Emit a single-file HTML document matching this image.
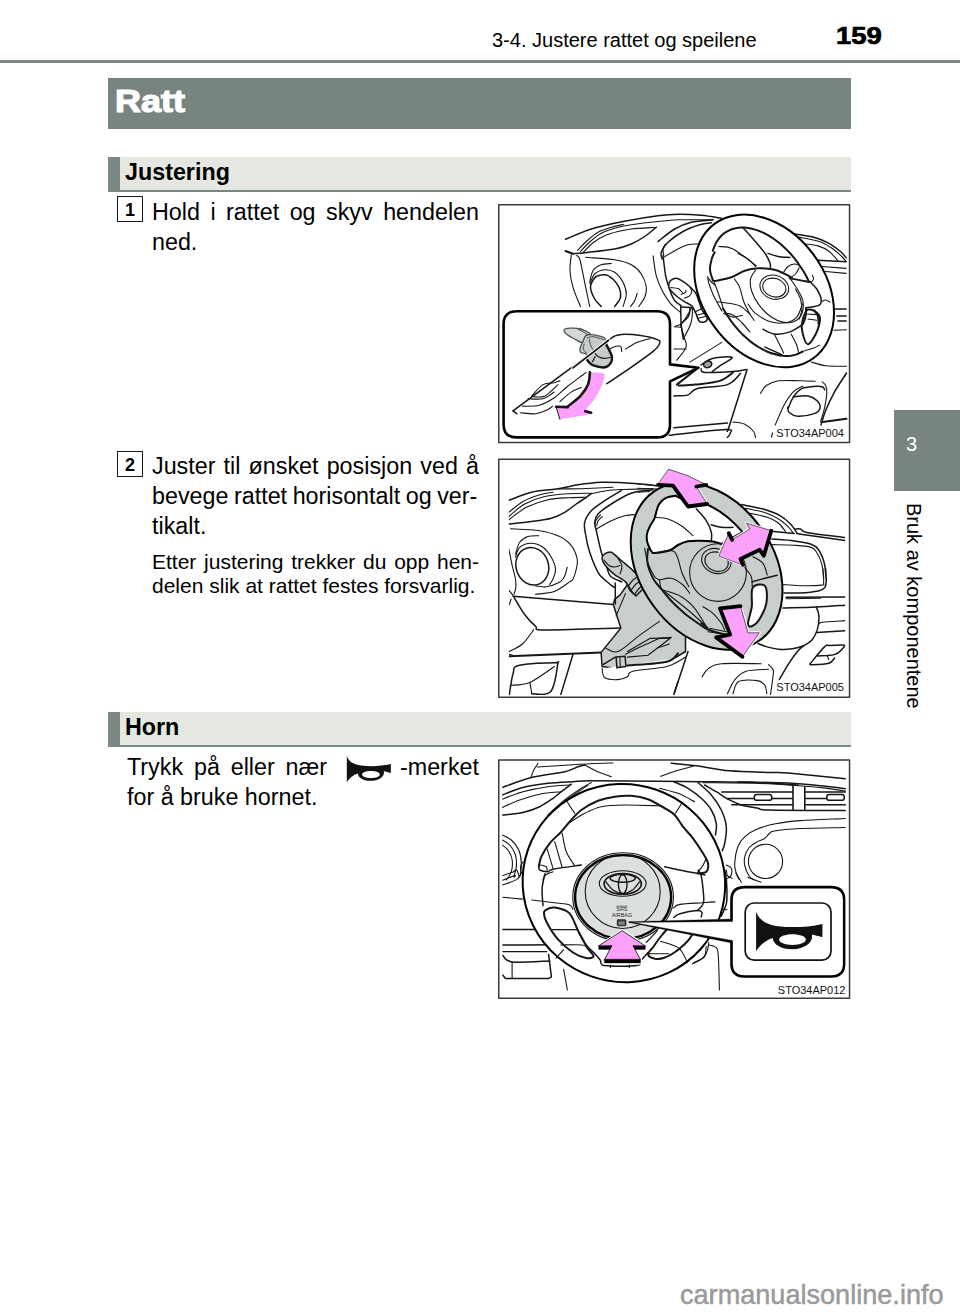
<!DOCTYPE html>
<html lang="no">
<head>
<meta charset="utf-8">
<title>Ratt</title>
<style>
html,body{margin:0;padding:0;background:#fff;}
body{width:960px;height:1312px;position:relative;overflow:hidden;font-family:"Liberation Sans",sans-serif;color:#000;}
.abs{position:absolute;}
#hdr{left:492px;top:28px;font-size:20px;line-height:24px;white-space:nowrap;}
#pgno{left:836px;top:22px;font-size:23.5px;line-height:28px;font-weight:bold;white-space:nowrap;transform-origin:0 0;transform:scaleX(1.17);-webkit-text-stroke:0.7px #000;}
#rule{left:0;top:60px;width:960px;height:3px;background:#7b8783;}
#title{left:108px;top:78px;width:743px;height:51px;background:#78847f;}
#title span{position:absolute;left:7px;top:6px;font-size:31px;line-height:36px;font-weight:bold;color:#fff;transform-origin:0 0;transform:scaleX(1.16);-webkit-text-stroke:1.2px #fff;white-space:nowrap;}
.sec{left:108px;width:743px;height:33px;background:#e4e8e0;border-bottom:2px solid #7b8783;}
.sec i{position:absolute;left:0;top:0;width:12px;height:35px;background:#7b8783;}
.sec span{position:absolute;left:17px;top:1.5px;font-size:23.3px;line-height:26px;font-weight:bold;white-space:nowrap;}
.num{width:24px;height:24px;border:1px solid #1a1a1a;font-size:18px;line-height:26px;font-weight:bold;text-align:center;box-sizing:content-box;}
.ln{font-size:23.3px;line-height:30px;height:30px;white-space:nowrap;}
.sm{font-size:21px;line-height:24px;height:24px;white-space:nowrap;}
.j{text-align:justify;text-align-last:justify;}
.fig{left:498px;width:350px;border:1.5px solid #333;box-sizing:content-box;background:#fff;overflow:hidden;}
.fig svg{position:absolute;left:0;top:0;}
#tab{left:894px;top:410px;width:66px;height:81px;background:#78847f;}
#tab span{position:absolute;left:12px;top:22px;font-size:20px;line-height:24px;color:#fff;}
#side{left:925.5px;top:503px;font-size:20px;line-height:24px;white-space:nowrap;transform-origin:0 0;transform:rotate(90deg);}
#wm{left:680px;top:1277.5px;font-size:27.1px;line-height:34px;color:#9a9a9a;white-space:nowrap;-webkit-text-stroke:0.5px #9a9a9a;}
</style>
</head>
<body>
<div class="abs" id="hdr">3-4. Justere rattet og speilene</div>
<div class="abs" id="pgno">159</div>
<div class="abs" id="rule"></div>
<div class="abs" id="title"><span>Ratt</span></div>

<div class="abs sec" style="top:157px"><i></i><span>Justering</span></div>

<div class="abs num" style="left:117px;top:196px">1</div>
<div class="abs ln j" style="left:152px;top:197px;width:327px">Hold i rattet og skyv hendelen</div>
<div class="abs ln" style="left:152px;top:227px">ned.</div>

<div class="abs num" style="left:117px;top:451px">2</div>
<div class="abs ln j" style="left:152px;top:451px;width:327px">Juster til ønsket posisjon ved å</div>
<div class="abs ln" style="left:152px;top:481px;word-spacing:-0.9px">bevege rattet horisontalt og ver-</div>
<div class="abs ln" style="left:152px;top:511px">tikalt.</div>
<div class="abs sm j" style="left:152px;top:550px;width:327px">Etter justering trekker du opp hen-</div>
<div class="abs sm" style="left:152px;top:573.5px">delen slik at rattet festes forsvarlig.</div>

<div class="abs sec" style="top:712px"><i></i><span>Horn</span></div>
<div class="abs ln j" style="left:127px;top:752px;width:200px">Trykk på eller nær</div>
<div class="abs ln" style="left:400px;top:752px">-merket</div>
<div class="abs ln" style="left:127px;top:782px">for å bruke hornet.</div>
<svg class="abs" id="hornic" style="left:345px;top:754px" width="50" height="30" viewBox="0 0 50 30"><path fill="#111" fill-rule="evenodd" d="M1.80,1.90 C3.46,7.21 8.44,10.66 16.41,11.59 C25.70,12.66 36.33,12.26 45.82,10.07 L45.82,18.90 C42.97,18.23 40.64,17.57 38.85,17.17 C39.98,22.48 33.67,26.87 25.84,26.87 C18.40,26.87 13.22,23.81 12.82,19.43 C8.44,20.82 4.46,23.81 1.80,28.19 Z M25.97,16.91 C20.92,16.91 17.07,18.43 17.07,20.49 C17.07,22.55 20.92,24.08 25.97,24.08 C31.02,24.08 34.87,22.55 34.87,20.49 C34.87,18.43 31.02,16.91 25.97,16.91 Z"/></svg>

<svg class="abs" style="left:497px;top:203px" width="355" height="242" viewBox="497 203 355 242" fill="none" stroke-linecap="round" stroke-linejoin="round">
<defs><clipPath id="c1"><rect x="499" y="205" width="350" height="237"/></clipPath></defs><g clip-path="url(#c1)">
<path d="M565.5,239.3C569.8,237.6 581.8,232.0 591.3,229.0C600.9,226.0 611.9,223.7 623.0,221.5C634.1,219.3 648.6,216.9 658.0,215.7C667.4,214.5 672.4,214.4 679.7,214.3C686.9,214.3 694.4,214.7 701.3,215.3C708.3,216.0 718.0,217.7 721.3,218.2" fill="none" stroke="#161616" stroke-width="1.5"/>
<path d="M577.7,250.3C579.1,248.9 582.9,244.5 586.3,241.5C589.7,238.5 593.8,234.7 598.0,232.3C602.2,230.0 607.0,228.7 611.3,227.3C615.6,226.0 621.8,224.8 623.8,224.3" fill="none" stroke="#161616" stroke-width="1.1"/>
<path d="M580.5,251.5C582.0,249.9 586.2,245.1 589.7,242.0C593.1,238.9 597.2,235.5 601.3,233.2C605.5,230.9 609.7,229.6 614.7,228.2C619.7,226.8 624.1,225.9 631.3,224.8C638.6,223.7 650.2,222.3 658.0,221.5C665.8,220.7 668.8,220.1 678.0,219.8C687.2,219.6 707.2,219.8 713.0,219.8" fill="none" stroke="#161616" stroke-width="1.1"/>
<path d="M583.0,252.7C584.7,251.0 589.4,245.5 593.0,242.7C596.6,239.8 600.5,237.5 604.7,235.7C608.8,233.8 613.6,232.6 618.0,231.5C622.4,230.4 624.9,229.7 631.3,229.0C637.7,228.3 652.2,227.6 656.3,227.3" fill="none" stroke="#161616" stroke-width="1.1"/>
<path d="M565.5,251.0L573.0,253.7" fill="none" stroke="#161616" stroke-width="2.0"/>
<path d="M573.0,253.7C574.9,253.5 577.7,253.4 584.7,252.7C591.6,251.9 606.9,250.4 614.7,249.0C622.4,247.6 626.3,246.1 631.3,244.0C636.3,241.9 640.5,239.3 644.7,236.5C648.8,233.7 654.4,228.9 656.3,227.3" fill="none" stroke="#161616" stroke-width="1.5"/>
<path d="M571.3,254.8C571.1,257.5 569.7,265.2 570.0,270.7C570.3,276.1 571.2,281.4 573.0,287.3C574.8,293.3 579.2,303.3 580.5,306.5" fill="none" stroke="#161616" stroke-width="1.1"/>
<path d="M576.3,255.7C576.9,256.2 578.3,254.6 579.7,259.0C581.1,263.4 583.0,274.4 584.7,282.3C586.3,290.2 588.8,302.5 589.7,306.5" fill="none" stroke="#161616" stroke-width="1.1"/>
<path d="M585.5,257.3C590.4,257.8 607.0,258.6 614.7,259.8C622.3,261.1 626.9,262.5 631.3,264.8C635.8,267.2 638.8,270.2 641.3,274.0C643.8,277.8 645.8,283.4 646.3,287.3C646.9,291.2 645.9,294.1 644.7,297.3C643.4,300.5 639.8,305.0 638.8,306.5" fill="none" stroke="#161616" stroke-width="1.1"/>
<path d="M589.7,282.3C590.2,280.4 591.1,273.6 593.0,270.7C594.9,267.8 598.3,266.0 601.3,264.8C604.4,263.6 609.7,263.7 611.3,263.5" fill="none" stroke="#161616" stroke-width="1.1"/>
<path d="M590.0,284.0C590.8,282.3 592.2,276.4 594.7,274.0C597.1,271.6 601.3,270.1 604.7,269.8C608.0,269.6 611.6,270.2 614.7,272.3C617.7,274.4 621.1,278.7 623.0,282.3C624.9,285.9 626.3,290.0 626.3,294.0C626.3,298.0 623.6,304.4 623.0,306.5" fill="none" stroke="#161616" stroke-width="1.1"/>
<path d="M601.3,306.5C600.2,305.2 596.5,302.2 594.7,299.0C592.9,295.8 590.6,290.7 590.5,287.3C590.4,284.0 592.6,280.9 593.8,279.0C595.1,277.1 595.6,276.2 598.0,275.7C600.4,275.1 604.7,274.0 608.0,275.7C611.3,277.3 615.9,282.1 618.0,285.7C620.1,289.3 621.1,293.9 620.5,297.3C619.9,300.8 615.6,305.0 614.7,306.5" fill="none" stroke="#161616" stroke-width="1.5"/>
<path d="M637.2,293.2C636.8,294.4 635.8,298.4 634.7,300.7C633.6,302.9 631.2,305.5 630.5,306.5" fill="none" stroke="#161616" stroke-width="1.1"/>
<path d="M658.0,241.5C660.8,239.4 669.1,232.2 674.7,229.0C680.2,225.8 684.9,223.9 691.3,222.3C697.7,220.8 709.4,220.2 713.0,219.8" fill="none" stroke="#161616" stroke-width="1.5"/>
<path d="M662.2,259.0C662.0,257.9 660.4,255.1 661.3,252.3C662.3,249.6 664.4,245.8 668.0,242.3C671.6,238.9 677.7,234.4 683.0,231.5C688.3,228.6 694.9,226.3 699.7,224.8C704.4,223.4 709.4,223.0 711.3,222.7" fill="none" stroke="#161616" stroke-width="1.5"/>
<path d="M663.8,257.3C665.6,256.2 670.6,252.8 674.7,250.7C678.7,248.6 684.1,245.9 688.0,244.8C691.9,243.7 696.3,244.1 698.0,244.0" fill="none" stroke="#161616" stroke-width="1.1"/>
<path d="M665.5,244.0C665.1,244.8 663.3,247.1 663.0,249.0C662.7,250.9 663.7,254.6 663.8,255.7" fill="none" stroke="#161616" stroke-width="1.1"/>
<path d="M794.9,234.0C797.9,234.5 807.5,235.7 813.0,237.1C818.5,238.6 823.4,240.4 828.0,242.8C832.6,245.1 837.5,249.0 840.5,251.5C843.5,254.0 845.2,256.7 846.1,257.8" fill="none" stroke="#161616" stroke-width="1.5"/>
<path d="M798.0,237.1C801.5,237.9 813.4,239.5 819.2,241.5C825.1,243.5 829.2,246.5 833.0,249.0C836.8,251.5 839.6,254.4 841.8,256.5C843.9,258.6 845.4,260.7 846.1,261.5" fill="none" stroke="#161616" stroke-width="1.1"/>
<path d="M804.2,244.0C806.5,244.3 813.8,244.6 818.0,245.9C822.2,247.1 825.9,249.0 829.2,251.5C832.6,254.0 836.5,259.3 838.0,260.9" fill="none" stroke="#161616" stroke-width="1.1"/>
<path d="M818.0,260.2L846.1,261.8" fill="none" stroke="#161616" stroke-width="1.5"/>
<path d="M821.8,266.5L846.1,268.4" fill="none" stroke="#161616" stroke-width="1.1"/>
<path d="M825.5,271.5L846.1,273.4" fill="none" stroke="#161616" stroke-width="1.1"/>
<path d="M835.5,309.0L846.1,309.0" fill="none" stroke="#161616" stroke-width="1.5"/>
<path d="M836.8,315.9L846.1,315.9" fill="none" stroke="#161616" stroke-width="1.5"/>
<path d="M838.0,320.9L846.1,320.9" fill="none" stroke="#161616" stroke-width="1.5"/>
<path d="M653.1,255.8C653.6,259.1 654.7,269.7 656.2,275.6C657.8,281.5 660.1,286.6 662.5,291.2C664.9,295.9 667.9,300.3 670.8,303.8C673.8,307.2 678.6,310.7 680.2,312.1" fill="none" stroke="#161616" stroke-width="1.1"/>
<path d="M663.0,255.8C663.5,259.1 664.7,270.4 665.6,275.6C666.6,280.8 667.4,283.1 668.8,287.1C670.1,291.1 671.9,296.5 674.0,299.6C676.0,302.7 680.0,304.8 681.2,305.8" fill="none" stroke="#161616" stroke-width="1.5"/>
<path d="M668.8,284.0C668.9,282.5 669.6,281.3 670.8,280.3C672.0,279.4 674.3,278.2 676.0,278.2C677.8,278.2 679.2,279.1 681.2,280.3C683.3,281.5 686.1,283.4 688.5,285.5C691.0,287.7 694.1,290.6 695.8,293.3C697.6,296.0 697.9,298.9 699.0,301.7C700.0,304.4 700.7,307.2 702.1,310.0C703.5,312.8 706.9,316.3 707.3,318.3C707.6,320.3 705.6,321.5 704.2,322.0C702.8,322.4 700.3,322.4 699.0,320.9C697.6,319.5 697.0,315.6 695.8,313.1C694.6,310.6 693.6,307.7 691.7,305.8C689.8,303.9 686.8,303.2 684.4,301.7C681.9,300.1 679.5,298.5 677.1,296.5C674.7,294.4 671.2,291.2 669.8,289.2C668.4,287.1 668.6,285.4 668.8,284.0Z" fill="#fff" stroke="#161616" stroke-width="1.5"/>
<path d="M681.2,294.4C681.9,294.0 684.6,293.0 685.4,292.3C686.2,291.6 685.9,290.6 685.9,290.2" fill="none" stroke="#161616" stroke-width="1.1"/>
<path d="M684.4,298.0C685.2,297.7 688.4,297.1 689.6,295.9C690.8,294.8 691.6,292.6 691.7,291.2C691.8,289.9 690.4,288.2 690.1,287.6" fill="none" stroke="#161616" stroke-width="1.1"/>
<path d="M670.8,287.6C672.0,287.8 676.2,287.9 678.1,288.6C680.0,289.4 681.6,291.7 682.3,292.3" fill="none" stroke="#161616" stroke-width="1.1"/>
<path d="M694.8,312.1L701.0,309.0" fill="none" stroke="#161616" stroke-width="1.1"/>
<path d="M696.4,315.2C697.5,314.9 701.6,314.1 703.1,313.6C704.6,313.2 704.9,312.8 705.2,312.6" fill="none" stroke="#161616" stroke-width="1.1"/>
<path d="M697.9,318.3L706.2,316.2" fill="none" stroke="#161616" stroke-width="1.1"/>
<path d="M680.7,306.9C680.8,309.8 680.8,319.2 681.2,324.6C681.7,330.0 683.0,336.7 683.3,339.2" fill="none" stroke="#161616" stroke-width="1.5"/>
<path d="M680.7,307.1L691.7,307.5" fill="none" stroke="#161616" stroke-width="1.5"/>
<path d="M690.1,307.9C689.8,309.3 690.0,313.6 688.5,316.2C687.1,318.9 682.5,322.3 681.2,323.5" fill="none" stroke="#161616" stroke-width="1.5"/>
<path d="M692.7,307.9C692.4,310.3 692.5,317.6 691.1,322.5C689.8,327.4 685.5,334.7 684.4,337.1" fill="none" stroke="#161616" stroke-width="1.1"/>
<path d="M674.5,326.7L680.7,327.2" fill="none" stroke="#161616" stroke-width="1.1"/>
<ellipse cx="764.1" cy="290.9" rx="83.4" ry="61.3" transform="rotate(-126.5 764.1 290.9)" fill="#fff" stroke="#000" stroke-width="2.0"/>
<path d="M712.8,250.8L714.1,247.2L715.6,243.8L717.4,240.6L719.5,237.8L721.8,235.3L724.4,233.1L727.2,231.3L730.3,229.8L733.5,228.7L736.9,228.0L740.5,227.6L744.3,227.6L748.1,228.0L752.0,228.7L756.0,229.9L760.1,231.3L764.2,233.2L768.3,235.3L772.3,237.8L776.3,240.7L780.3,243.8L784.1,247.2L787.9,250.9L791.5,254.8L794.9,258.9L798.1,263.2L801.2,267.7L804.1,272.3L806.7,277.0L809.0,281.8" fill="none" stroke="#161616" stroke-width="2.0"/>
<path d="M714.7,252.3C714.2,253.4 712.4,256.1 711.7,259.0C710.9,261.9 709.8,266.2 710.0,269.8C710.2,273.4 712.5,278.9 713.0,280.7" fill="none" stroke="#161616" stroke-width="2.0"/>
<path d="M723.2,308.7L725.2,312.1L727.3,315.5L729.5,318.8L731.8,322.0L734.2,325.2L736.7,328.2L739.3,331.1L742.0,333.9L744.8,336.5L747.6,339.0L750.4,341.4L753.3,343.6L756.3,345.6L759.3,347.5L762.2,349.2L765.2,350.7L768.2,352.0L771.2,353.2L774.1,354.1L777.1,354.9L779.9,355.4L782.8,355.8L785.6,356.0L788.3,355.9L790.9,355.7L793.4,355.2L795.9,354.6L798.3,353.7L800.5,352.7L802.7,351.5" fill="none" stroke="#161616" stroke-width="2.0"/>
<path d="M714.7,281.0C717.4,280.4 726.3,279.1 731.3,277.3C736.3,275.6 740.2,272.2 744.7,270.7C749.1,269.1 753.0,268.3 758.0,268.2C763.0,268.0 769.1,268.3 774.7,269.8C780.2,271.4 788.7,275.9 791.3,277.3C794.0,278.8 787.3,277.6 790.5,278.4C793.7,279.2 807.2,281.5 810.5,282.1" fill="none" stroke="#161616" stroke-width="2.0"/>
<path d="M810.5,282.1C811.5,283.3 815.0,286.2 816.8,289.0C818.5,291.8 820.7,296.3 821.1,299.0C821.5,301.7 821.6,303.8 819.2,305.2C816.9,306.7 808.8,307.3 806.8,307.8" fill="none" stroke="#161616" stroke-width="1.5"/>
<path d="M806.1,307.8C806.0,309.2 806.0,313.8 805.5,316.5C805.0,319.2 803.4,322.8 803.0,324.0" fill="none" stroke="#161616" stroke-width="2.0"/>
<path d="M814.2,310.2C814.9,311.3 817.3,314.2 818.0,316.5C818.7,318.8 818.5,322.8 818.6,324.0" fill="none" stroke="#161616" stroke-width="2.0"/>
<path d="M806.8,314.0L816.8,314.6" fill="none" stroke="#161616" stroke-width="1.1"/>
<path d="M808.0,319.0L816.8,320.2" fill="none" stroke="#161616" stroke-width="1.1"/>
<path d="M821.8,301.5C822.4,301.2 824.1,299.9 825.5,300.0C826.9,300.1 829.1,301.8 829.9,302.1" fill="none" stroke="#161616" stroke-width="1.1"/>
<path d="M812.4,275.2C812.6,275.9 813.7,278.0 813.6,279.0C813.5,280.0 812.1,281.1 811.8,281.5" fill="none" stroke="#161616" stroke-width="1.1"/>
<path d="M755.5,270.2C754.7,271.7 751.1,275.5 750.5,279.0C749.9,282.5 750.3,287.1 751.8,291.5C753.2,295.9 756.1,301.1 759.2,305.2C762.4,309.4 766.5,313.7 770.5,316.5C774.5,319.3 779.0,321.3 783.0,322.1C787.0,323.0 791.1,322.9 794.2,321.5C797.4,320.1 800.3,317.3 801.8,314.0C803.2,310.7 803.6,305.5 803.0,301.5C802.4,297.5 800.1,294.0 798.0,290.2C795.9,286.5 791.8,280.9 790.5,279.0" fill="none" stroke="#161616" stroke-width="1.1"/>
<path d="M795.5,289.0C796.3,290.7 799.5,295.5 800.5,299.0C801.5,302.5 802.0,306.9 801.8,310.2C801.5,313.6 799.7,317.5 799.2,319.0" fill="none" stroke="#161616" stroke-width="1.1"/>
<ellipse cx="774.3" cy="287.2" rx="14.6" ry="11.8" transform="rotate(18 774.3 287.2)" fill="none" stroke="#161616" stroke-width="1.1"/>
<ellipse cx="774.3" cy="287.6" rx="11.8" ry="9.2" transform="rotate(18 774.3 287.6)" fill="none" stroke="#161616" stroke-width="1.1"/>
<path d="M743.0,227.8C744.9,229.8 750.5,235.9 754.2,240.2C758.0,244.6 762.9,250.2 765.5,254.0C768.1,257.8 769.0,260.5 769.9,262.8C770.7,265.0 770.4,266.9 770.5,267.8" fill="none" stroke="#161616" stroke-width="1.5"/>
<path d="M768.0,253.4C769.7,253.9 774.4,255.8 778.0,256.5C781.6,257.2 787.9,257.3 789.9,257.5" fill="none" stroke="#161616" stroke-width="1.5"/>
<path d="M738.0,253.4C739.7,254.3 745.1,256.8 748.0,259.0C750.9,261.2 754.2,265.2 755.5,266.5" fill="none" stroke="#161616" stroke-width="1.1"/>
<path d="M718.8,246.5C721.2,246.9 726.8,245.8 733.0,249.0C739.2,252.2 752.4,262.9 756.3,265.7" fill="none" stroke="#161616" stroke-width="1.1"/>
<path d="M783.6,272.1C784.4,271.2 786.2,267.9 788.0,266.5C789.8,265.1 792.4,264.2 794.2,264.0C796.1,263.8 798.4,265.0 799.2,265.2" fill="none" stroke="#161616" stroke-width="1.1"/>
<path d="M799.2,267.8C798.6,268.8 797.0,272.3 795.5,274.0C794.0,275.7 791.3,277.1 790.5,277.8" fill="none" stroke="#161616" stroke-width="1.1"/>
<path d="M707.3,276.7C707.8,277.4 709.2,279.4 710.4,280.8C711.6,282.2 713.9,284.3 714.6,285.0" fill="none" stroke="#161616" stroke-width="1.1"/>
<path d="M707.8,278.8C708.1,279.8 708.4,282.2 709.4,285.0C710.3,287.8 711.5,291.1 713.5,295.4C715.6,299.8 720.5,308.4 721.9,311.0" fill="none" stroke="#161616" stroke-width="1.1"/>
<path d="M713.5,280.3C714.1,282.0 715.8,286.3 717.2,290.2C718.6,294.1 720.8,300.5 721.9,303.8C722.9,307.0 723.2,309.0 723.4,310.0" fill="none" stroke="#161616" stroke-width="1.1"/>
<path d="M734.4,278.8C735.2,280.1 738.0,283.3 739.6,287.1C741.1,290.9 742.0,297.2 743.8,301.7C745.5,306.2 748.3,311.0 750.0,314.2C751.7,317.3 753.5,319.4 754.2,320.4" fill="none" stroke="#161616" stroke-width="1.1"/>
<path d="M717.7,301.7C718.9,301.8 721.4,302.0 725.0,302.7C728.6,303.4 735.4,303.9 739.6,305.8C743.8,307.7 748.3,312.8 750.0,314.2" fill="none" stroke="#161616" stroke-width="1.1"/>
<path d="M725.0,313.1C726.4,313.5 730.6,313.6 733.3,315.2C736.1,316.8 738.9,319.7 741.7,322.5C744.4,325.3 748.6,330.3 750.0,331.9" fill="none" stroke="#161616" stroke-width="1.1"/>
<path d="M802.4,332.1C803.3,336.0 805.5,344.6 808.0,344.3C810.5,344.0 815.5,335.1 817.4,330.3C819.3,325.4 820.8,318.7 819.3,315.3C817.7,311.8 810.8,308.7 808.0,309.6C805.2,310.6 803.3,317.1 802.4,320.9C801.4,324.6 801.4,328.2 802.4,332.1Z" fill="none" stroke="#161616" stroke-width="2.0"/>
<path d="M748.0,304.0C749.3,305.6 751.8,310.4 755.5,313.4C759.3,316.3 765.5,320.3 770.5,321.8C775.5,323.4 781.1,323.5 785.5,322.8C789.9,322.0 793.9,320.3 796.8,317.1C799.6,314.0 801.4,306.2 802.4,304.0" fill="none" stroke="#161616" stroke-width="1.1"/>
<path d="M723.6,313.4C725.2,314.0 729.9,316.8 733.0,317.1C736.1,317.4 740.8,315.6 742.4,315.3" fill="none" stroke="#161616" stroke-width="1.1"/>
<path d="M763.0,329.3C764.9,330.1 769.9,333.5 774.3,334.0C778.6,334.5 784.6,333.7 789.3,332.1C793.9,330.6 800.2,325.9 802.4,324.6" fill="none" stroke="#161616" stroke-width="1.5"/>
<path d="M774.3,334.0C775.2,335.9 778.3,342.1 779.9,345.3C781.4,348.4 783.0,351.8 783.6,353.1" fill="none" stroke="#161616" stroke-width="1.1"/>
<path d="M791.1,334.0C792.1,335.9 795.5,342.1 796.8,345.3C798.0,348.4 798.3,351.8 798.6,353.1" fill="none" stroke="#161616" stroke-width="1.1"/>
<path d="M764.9,347.1L781.8,354.6" fill="none" stroke="#161616" stroke-width="1.5"/>
<path d="M766.8,351.8L783.6,355.6" fill="none" stroke="#161616" stroke-width="1.1"/>
<path d="M804.3,350.9C805.8,350.4 811.1,349.0 813.6,348.1C816.1,347.1 818.3,345.7 819.3,345.3" fill="none" stroke="#161616" stroke-width="1.1"/>
<path d="M674.9,326.5C676.1,325.9 679.6,325.9 682.4,322.8C685.2,319.6 690.2,310.3 691.8,307.8" fill="none" stroke="#161616" stroke-width="1.1"/>
<path d="M680.5,324.6C681.1,326.8 683.3,334.0 684.3,337.8C685.2,341.5 687.4,343.4 686.1,347.1C684.9,350.9 678.3,358.1 676.8,360.3" fill="none" stroke="#161616" stroke-width="1.1"/>
<path d="M673.9,349.0L686.1,349.0" fill="none" stroke="#161616" stroke-width="1.1"/>
<path d="M689.9,362.1L721.8,342.4" fill="none" stroke="#161616" stroke-width="1.1"/>
<path d="M701.1,364.9C703.0,363.8 707.2,359.6 712.4,358.4C717.5,357.1 730.8,356.2 732.1,357.4C733.3,358.7 723.2,363.5 719.9,365.9C716.6,368.2 713.6,370.6 712.4,371.5" fill="none" stroke="#161616" stroke-width="1.5"/>
<ellipse cx="707.7" cy="364.4" rx="4.2" ry="3.2" transform="rotate(-20 707.7 364.4)" fill="#9aa09e" stroke="#161616" stroke-width="1.5"/>
<path d="M698.3,367.8L676.8,384.6" fill="none" stroke="#161616" stroke-width="2.0"/>
<path d="M701.1,368.7C701.8,369.3 699.6,372.0 704.9,372.4C710.2,372.9 726.1,372.0 733.0,371.5C739.9,371.0 743.9,369.9 746.1,369.6" fill="none" stroke="#161616" stroke-width="1.5"/>
<path d="M678.6,385.6C681.4,385.4 688.6,385.4 695.5,384.6C702.4,383.8 713.6,382.9 719.9,380.9C726.1,378.8 730.8,373.8 733.0,372.4" fill="none" stroke="#161616" stroke-width="2.0"/>
<path d="M673.9,395.9C676.3,395.7 684.1,396.2 688.0,394.9C691.9,393.7 690.8,390.1 697.4,388.4C703.9,386.7 720.2,387.1 727.4,384.6C734.6,382.1 738.3,375.3 740.5,373.4" fill="none" stroke="#161616" stroke-width="1.5"/>
<path d="M747.1,369.6C744.1,379.0 732.5,415.9 729.3,425.9C726.0,435.9 727.7,429.0 727.4,429.6" fill="none" stroke="#161616" stroke-width="1.5"/>
<path d="M673.9,427.8L727.4,423.1" fill="none" stroke="#161616" stroke-width="1.5"/>
<path d="M669.3,435.3C678.6,434.3 715.3,429.9 725.5,429.6C735.7,429.3 729.9,432.1 730.2,433.4C730.5,434.7 727.8,436.8 727.4,437.5" fill="none" stroke="#161616" stroke-width="1.5"/>
<path d="M733.0,422.1C734.9,422.4 740.8,422.4 744.3,424.0C747.7,425.6 751.8,429.3 753.6,431.5C755.5,433.8 755.2,436.5 755.5,437.5" fill="none" stroke="#161616" stroke-width="1.1"/>
<path d="M811.1,362.0C813.6,362.6 819.8,365.0 825.7,365.7C831.6,366.4 843.1,366.1 846.5,366.2" fill="none" stroke="#161616" stroke-width="1.1"/>
<path d="M834.0,330.2L846.5,329.7" fill="none" stroke="#161616" stroke-width="1.1"/>
<path d="M846.5,373.0C844.5,376.3 837.5,386.5 834.0,392.8C830.6,399.0 827.9,405.1 825.7,410.5C823.5,415.8 821.8,422.6 821.0,425.0" fill="none" stroke="#161616" stroke-width="1.5"/>
<path d="M822.6,421.9L846.5,418.8" fill="none" stroke="#161616" stroke-width="2.0"/>
<path d="M822.1,381.8C822.7,382.4 824.9,383.6 825.7,385.5C826.5,387.3 826.9,389.1 826.8,392.8C826.6,396.4 825.7,402.5 824.7,407.3C823.6,412.2 821.2,419.5 820.5,421.9" fill="none" stroke="#161616" stroke-width="1.1"/>
<path d="M760.6,393.3C761.6,392.0 763.3,387.5 766.3,385.5C769.4,383.4 773.3,381.6 778.8,380.8C784.4,380.0 793.6,380.7 799.7,380.8C805.7,380.9 812.7,381.2 815.3,381.3" fill="none" stroke="#161616" stroke-width="1.1"/>
<path d="M775.2,425.0C776.7,421.7 781.0,410.8 784.0,405.2C787.1,399.7 790.3,394.9 793.4,391.7C796.5,388.5 801.2,387.1 802.8,386.2" fill="none" stroke="#161616" stroke-width="1.1"/>
<path d="M788.2,408.4C789.1,406.5 791.2,400.2 793.4,396.9C795.7,393.6 797.9,390.4 801.8,388.6C805.6,386.8 812.9,386.4 816.3,386.2C819.8,385.9 821.2,386.4 822.6,387.0C824.0,387.6 824.3,389.2 824.7,389.6" fill="none" stroke="#161616" stroke-width="1.5"/>
<path d="M793.4,396.9C795.8,396.7 804.0,395.2 808.0,395.9C812.0,396.6 815.4,399.0 817.4,401.1C819.4,403.2 820.5,406.3 820.0,408.4C819.5,410.5 818.0,412.3 814.2,413.6C810.5,414.9 801.8,416.4 797.6,416.2C793.4,416.0 790.9,414.0 789.2,412.5C787.6,411.1 787.9,408.2 787.7,407.3" fill="none" stroke="#161616" stroke-width="1.5"/>
<path d="M771.5,437.0L772.6,432.9" fill="none" stroke="#161616" stroke-width="1.1"/>
<path d="M516.6,311.2 H657.0 Q670.0,311.2 670.0,324.2 V364.4 L698.3,367.8 L670.0,381.3 V424.4 Q670.0,437.4 657.0,437.4 H516.6 Q503.6,437.4 503.6,424.4 V324.2 Q503.6,311.2 516.6,311.2 Z" fill="#fff" stroke="#000" stroke-width="2.6"/>
<path d="M513.0,410.9L608.6,340.2" fill="none" stroke="#161616" stroke-width="1.5"/>
<path d="M608.6,340.2C609.6,339.5 612.1,337.2 614.3,336.3C616.4,335.3 617.4,334.5 621.8,334.4C626.1,334.3 634.6,334.6 640.5,335.5C646.4,336.4 654.2,338.3 657.4,339.6C660.6,340.9 660.3,341.5 659.6,343.4C659.0,345.3 658.7,346.7 653.6,350.9C648.6,355.1 637.1,363.2 629.3,368.7C621.4,374.2 610.5,381.2 606.8,383.7" fill="none" stroke="#161616" stroke-width="1.5"/>
<path d="M625.5,349.0C627.4,347.9 632.7,344.2 636.8,342.4C640.8,340.7 647.7,339.3 649.9,338.7" fill="none" stroke="#161616" stroke-width="1.1"/>
<path d="M513.0,410.9L516.8,413.7" fill="none" stroke="#161616" stroke-width="1.5"/>
<path d="M520.5,412.8C523.0,412.9 530.8,414.3 535.5,413.7C540.2,413.1 545.8,410.3 548.6,409.0C551.4,407.8 551.8,406.7 552.4,406.2" fill="none" stroke="#161616" stroke-width="1.1"/>
<path d="M522.4,406.2C525.2,406.0 533.9,406.7 539.3,405.3C544.6,403.8 549.6,400.9 554.3,397.8C558.9,394.6 562.7,390.3 567.4,386.5C572.1,382.8 579.3,377.6 582.4,375.3C585.5,372.9 585.5,372.9 586.1,372.4" fill="none" stroke="#161616" stroke-width="1.1"/>
<path d="M531.8,395.9C533.6,394.0 539.3,386.8 543.0,384.6C546.8,382.4 551.4,383.4 554.3,382.8C557.1,382.1 558.9,381.2 559.9,380.9" fill="none" stroke="#161616" stroke-width="1.1"/>
<path d="M533.6,396.8C535.5,396.7 540.8,397.9 544.9,395.9C548.9,393.8 555.8,386.5 558.0,384.6" fill="none" stroke="#161616" stroke-width="1.1"/>
<path d="M528.0,398.7C530.5,398.7 538.6,399.8 543.0,398.7C547.4,397.6 552.4,393.2 554.3,392.1" fill="none" stroke="#161616" stroke-width="1.1"/>
<path d="M559.9,401.5C561.8,399.9 567.5,394.5 571.1,392.1C574.7,389.8 579.7,388.2 581.4,387.4" fill="none" stroke="#161616" stroke-width="1.1"/>
<path d="M564.2,330.8C563.9,330.0 563.9,329.4 565.0,329.0C566.1,328.6 568.9,328.3 570.8,328.2C572.8,328.1 574.6,328.0 576.7,328.3C578.8,328.6 581.1,329.1 583.3,330.0C585.6,330.9 589.6,332.8 590.0,333.8C590.4,334.7 587.1,334.4 585.8,335.8C584.6,337.3 584.3,341.9 582.5,342.5C580.7,343.1 577.6,340.6 575.0,339.2C572.4,337.8 568.5,335.6 566.7,334.2C564.9,332.8 564.4,331.7 564.2,330.8Z" fill="#d3d8d6" stroke="#4a504e" stroke-width="1.3"/>
<path d="M576.7,328.3L587.5,334.3" fill="none" stroke="#4a504e" stroke-width="1.0"/>
<path d="M580.0,328.2L590.0,333.3" fill="none" stroke="#4a504e" stroke-width="1.0"/>
<path d="M585.8,335.8C587.4,334.5 589.0,334.4 591.7,334.6C594.3,334.7 599.4,336.0 601.7,336.7C603.9,337.4 603.9,336.8 605.0,338.8C606.1,340.7 607.2,345.5 608.3,348.3C609.4,351.2 611.1,353.8 611.7,355.8C612.2,357.9 612.2,359.2 611.7,360.8C611.1,362.5 609.7,364.7 608.3,365.8C606.9,366.9 605.8,367.6 603.3,367.5C600.8,367.4 595.7,366.2 593.3,365.4C591.0,364.6 590.3,363.5 589.2,362.5C588.1,361.5 587.1,360.3 586.7,359.2C586.2,358.1 586.9,356.8 586.7,355.8C586.4,354.9 586.0,353.9 585.0,353.3C584.0,352.8 581.7,353.3 580.8,352.5C580.0,351.7 579.7,350.0 580.0,348.3C580.3,346.7 581.5,344.6 582.5,342.5C583.5,340.4 584.3,337.2 585.8,335.8Z" fill="#c6ccca" stroke="#4a504e" stroke-width="1.3"/>
<path d="M587.5,337.9C588.5,337.7 590.7,336.4 593.3,336.7C596.0,336.9 601.7,339.1 603.3,339.6" fill="none" stroke="#4a504e" stroke-width="1.0"/>
<path d="M589.2,339.2C589.4,340.3 590.1,344.0 590.8,345.8C591.5,347.6 592.9,349.3 593.3,350.0" fill="none" stroke="#4a504e" stroke-width="1.0"/>
<path d="M584.2,344.2C584.0,345.0 582.9,347.6 583.3,349.2C583.8,350.7 586.1,352.6 586.7,353.3" fill="none" stroke="#4a504e" stroke-width="1.0"/>
<path d="M595.0,353.3C595.6,353.9 596.8,355.8 598.3,356.7C599.9,357.5 602.2,358.2 604.2,358.3C606.1,358.5 609.0,357.6 610.0,357.5" fill="none" stroke="#161616" stroke-width="1.2"/>
<path d="M595.0,356.7L592.5,361.7" fill="none" stroke="#161616" stroke-width="1.2"/>
<path d="M586.7,359.2C587.1,359.7 588.1,361.5 589.2,362.5C590.3,363.5 591.0,364.6 593.3,365.4C595.7,366.2 600.8,367.4 603.3,367.5C605.8,367.6 606.9,366.9 608.3,365.8C609.7,364.7 611.1,362.5 611.7,360.8C612.2,359.2 612.2,357.9 611.7,355.8C611.1,353.8 609.3,350.3 608.3,348.3C607.4,346.4 606.2,344.9 605.8,344.2" fill="none" stroke="#161616" stroke-width="2.4"/>
<path d="M573.0,367.9L608.6,340.2" fill="none" stroke="#fff" stroke-width="3.6"/>
<path d="M573.0,367.9L608.6,340.2" fill="none" stroke="#161616" stroke-width="1.8"/>
<path d="M610.0,348.8C611.0,348.3 614.0,346.6 615.8,346.2C617.6,345.9 619.9,345.8 620.8,346.7C621.8,347.6 621.5,350.8 621.7,351.7" fill="none" stroke="#161616" stroke-width="1.1"/>
<path d="M589.9,372.4C592.2,372.7 601.9,371.7 603.9,373.8C606.0,375.8 603.5,380.6 602.1,384.6C600.7,388.6 598.2,393.7 595.5,397.8C592.8,401.8 587.7,407.1 586.1,409.0L591.2,411.8 L590.8,414.3 L559.9,419.3 L556.1,406.8 L567.4,407.1C569.6,405.3 577.1,399.6 580.5,395.9C583.9,392.1 586.4,388.5 588.0,384.6C589.6,380.7 589.6,374.5 589.9,372.4Z" fill="#fca1fb" stroke="none" stroke-width="0"/>
<path d="M589.9,372.4C589.6,374.5 589.6,380.7 588.0,384.6C586.4,388.5 583.9,392.2 580.5,395.9C577.1,399.6 569.6,404.9 567.4,406.8" fill="none" stroke="#161616" stroke-width="2.6"/>
<path d="M567.8,407.1L556.1,406.8" fill="none" stroke="#161616" stroke-width="2.6"/>
<path d="M585.2,411.3L591.2,412.8" fill="none" stroke="#161616" stroke-width="2.6"/>
<path d="M556.1,406.8L559.9,419.3" fill="none" stroke="#161616" stroke-width="1.0"/>
</g>
<rect x="498.75" y="204.75" width="350.8" height="237.8" stroke="#3a3a3a" stroke-width="1.5"/>
<text x="776.3" y="437.2" font-family="Liberation Sans, sans-serif" font-size="11px" fill="#111" stroke="none">STO34AP004</text>
</svg>
<svg class="abs" style="left:497px;top:457px" width="355" height="243" viewBox="497 457 355 243" fill="none" stroke-linecap="round" stroke-linejoin="round">
<defs><clipPath id="c2"><rect x="508.8" y="460" width="336.5" height="235"/></clipPath></defs><g clip-path="url(#c2)">
<path d="M508.8,500.3C512.6,499.0 523.4,494.2 531.3,492.3C539.2,490.4 548.6,490.2 556.3,489.0C564.1,487.8 570.5,485.9 578.0,484.8C585.5,483.7 593.8,482.7 601.3,482.3C608.8,482.0 615.8,482.5 623.0,482.8C630.2,483.2 639.1,483.9 644.7,484.3C650.2,484.8 654.4,485.4 656.3,485.7" fill="none" stroke="#161616" stroke-width="1.5"/>
<path d="M508.8,512.3C511.2,510.5 517.9,504.4 523.0,501.5C528.1,498.6 534.7,496.4 539.7,494.8C544.7,493.3 550.8,492.8 553.0,492.3" fill="none" stroke="#161616" stroke-width="1.1"/>
<path d="M508.8,516.5C511.5,514.4 518.7,507.3 524.7,504.0C530.6,500.7 537.4,498.2 544.7,496.5C551.9,494.8 560.5,494.2 568.0,493.7C575.5,493.1 586.1,493.2 589.7,493.2" fill="none" stroke="#161616" stroke-width="1.1"/>
<path d="M558.0,489.0C561.9,488.9 572.2,488.9 581.3,488.7C590.5,488.4 607.7,487.6 613.0,487.3" fill="none" stroke="#161616" stroke-width="1.1"/>
<path d="M589.7,494.0C592.4,493.4 600.8,491.4 606.3,490.7C611.9,489.9 615.2,489.8 623.0,489.5C630.8,489.2 648.0,488.8 653.0,488.7" fill="none" stroke="#161616" stroke-width="1.1"/>
<path d="M508.8,519.8C511.8,517.8 519.8,510.7 526.3,507.3C532.9,504.0 540.8,501.4 548.0,499.8C555.2,498.2 563.3,498.1 569.7,497.7C576.1,497.2 583.6,497.4 586.3,497.3" fill="none" stroke="#161616" stroke-width="1.1"/>
<path d="M508.8,524.0C512.6,523.6 524.2,522.5 531.3,521.5C538.4,520.5 545.8,519.7 551.3,518.2C556.9,516.6 560.5,514.7 564.7,512.3C568.8,510.0 572.7,506.5 576.3,504.0C579.9,501.5 583.8,499.1 586.3,497.3C588.8,495.5 590.5,493.9 591.3,493.2" fill="none" stroke="#161616" stroke-width="1.5"/>
<path d="M510.5,528.7C515.4,529.0 531.5,529.4 539.7,530.7C547.9,532.0 554.4,534.0 559.7,536.5C564.9,539.0 568.4,541.9 571.3,545.7C574.2,549.4 576.3,555.1 577.2,559.0C578.0,562.9 577.0,565.7 576.3,569.0C575.6,572.3 574.2,576.8 573.0,579.0C571.8,581.2 572.4,580.0 569.3,582.1C566.1,584.2 559.9,589.5 554.3,591.5C548.6,593.5 538.6,593.8 535.5,594.3" fill="none" stroke="#161616" stroke-width="1.1"/>
<path d="M515.5,554.0C516.2,552.1 517.6,545.2 519.7,542.3C521.8,539.4 524.8,537.6 528.0,536.5C531.2,535.4 537.0,535.8 538.8,535.7" fill="none" stroke="#161616" stroke-width="1.1"/>
<path d="M515.5,557.3C516.2,555.7 517.0,549.7 519.7,547.3C522.3,545.0 527.4,543.2 531.3,543.2C535.2,543.2 539.7,545.0 543.0,547.3C546.3,549.7 549.2,553.7 551.3,557.3C553.4,560.9 555.2,565.4 555.5,569.0C555.8,572.6 554.0,576.4 553.0,579.0C552.0,581.6 550.1,583.5 549.6,584.4" fill="none" stroke="#161616" stroke-width="1.1"/>
<ellipse cx="532.3" cy="566.3" rx="16.2" ry="19.0" transform="rotate(-18 532.3 566.3)" fill="none" stroke="#161616" stroke-width="1.5"/>
<path d="M567.2,567.3C566.9,568.4 566.2,572.1 565.5,574.0C564.8,575.9 564.2,577.5 563.0,579.0C561.8,580.5 560.7,581.8 558.0,583.1C555.3,584.4 550.5,586.3 546.8,586.8C543.0,587.3 537.4,586.0 535.5,585.9" fill="none" stroke="#161616" stroke-width="1.1"/>
<path d="M508.8,549.0C509.4,551.8 511.1,560.7 512.2,565.7C513.3,570.7 514.9,575.3 515.5,579.0C516.1,582.7 516.1,585.2 515.8,587.8C515.6,590.3 514.3,593.2 513.9,594.3" fill="none" stroke="#161616" stroke-width="1.1"/>
<path d="M509.3,590.6L513.0,595.3" fill="none" stroke="#161616" stroke-width="1.1"/>
<path d="M621.3,490.7C618.6,492.3 609.7,497.3 604.7,500.7C599.7,504.0 594.7,507.1 591.3,510.7C588.0,514.3 585.6,518.4 584.7,522.3C583.7,526.2 584.7,529.0 585.5,534.0C586.3,539.0 587.6,545.9 589.7,552.3C591.8,558.7 595.5,567.7 598.0,572.3C600.5,576.9 602.2,577.5 604.9,580.0C607.6,582.5 612.7,586.2 614.3,587.5" fill="none" stroke="#161616" stroke-width="1.5"/>
<path d="M653.0,489.8C649.4,490.4 638.3,490.8 631.3,493.2C624.4,495.5 616.9,500.5 611.3,504.0C605.8,507.5 600.8,510.9 598.0,514.0C595.2,517.1 594.9,519.6 594.7,522.3C594.4,525.1 595.2,525.7 596.3,530.7C597.4,535.7 599.7,546.5 601.3,552.3C603.0,558.2 604.8,561.7 606.3,565.7C607.9,569.7 607.9,573.6 610.5,576.3C613.1,579.0 619.9,581.0 621.8,581.9" fill="none" stroke="#161616" stroke-width="1.5"/>
<path d="M596.3,529.0C598.8,527.6 606.6,522.9 611.3,520.7C616.1,518.4 620.5,516.7 624.7,515.7C628.8,514.6 634.4,514.7 636.3,514.5" fill="none" stroke="#161616" stroke-width="1.1"/>
<path d="M600.5,514.8C599.8,515.7 597.3,518.2 596.3,519.8C595.4,521.5 594.9,524.0 594.7,524.8" fill="none" stroke="#161616" stroke-width="1.1"/>
<path d="M602.2,516.5C601.5,517.2 598.9,519.5 598.0,521.0C597.1,522.5 596.9,524.9 596.7,525.7" fill="none" stroke="#161616" stroke-width="1.1"/>
<path d="M638.0,484.0L656.3,485.7" fill="none" stroke="#161616" stroke-width="1.1"/>
<path d="M638.0,488.2L656.3,489.0" fill="none" stroke="#161616" stroke-width="1.1"/>
<path d="M638.0,492.3L649.7,491.5" fill="none" stroke="#161616" stroke-width="1.1"/>
<path d="M741.8,504.6C745.3,505.4 756.8,507.2 763.0,509.0C769.2,510.8 774.7,512.8 779.2,515.2C783.8,517.8 787.6,521.1 790.5,524.0C793.4,526.9 795.7,531.3 796.8,532.8" fill="none" stroke="#161616" stroke-width="1.5"/>
<path d="M745.5,508.4C748.8,509.1 759.7,510.8 765.5,512.8C771.3,514.7 776.5,517.8 780.5,520.2C784.5,522.8 787.2,525.7 789.2,527.8C791.3,529.8 792.4,531.9 793.0,532.8" fill="none" stroke="#161616" stroke-width="1.1"/>
<path d="M750.5,513.4C753.2,514.0 762.2,515.6 766.8,517.1C771.3,518.7 774.9,520.4 778.0,522.8C781.1,525.1 784.2,530.0 785.5,531.5" fill="none" stroke="#161616" stroke-width="1.1"/>
<path d="M773.6,531.5L794.2,533.4" fill="none" stroke="#161616" stroke-width="1.5"/>
<path d="M795.5,529.0C796.3,529.0 798.4,528.4 800.5,529.0C802.6,529.6 800.6,531.3 808.0,532.8C815.4,534.2 838.7,536.7 844.9,537.5" fill="none" stroke="#161616" stroke-width="1.5"/>
<path d="M796.8,533.4C798.6,533.7 800.0,534.1 808.0,535.2C816.0,536.4 838.7,539.6 844.9,540.5" fill="none" stroke="#161616" stroke-width="1.5"/>
<path d="M771.8,539.0C775.5,539.3 787.8,540.0 794.2,540.9C800.7,541.7 806.5,542.6 810.5,544.0C814.5,545.4 815.7,545.9 818.0,549.0C820.3,552.1 822.9,557.8 824.2,562.8C825.6,567.8 825.9,578.0 826.1,579.0C826.4,580.0 825.7,568.6 825.7,569.0C825.7,569.4 826.4,578.4 826.2,581.5C826.1,584.6 826.0,586.2 824.7,587.8C823.4,589.3 822.6,590.0 818.4,590.9C814.2,591.7 805.4,592.6 799.7,593.0C793.9,593.3 786.6,593.0 784.0,593.0" fill="none" stroke="#161616" stroke-width="1.5"/>
<path d="M772.4,544.6C776.0,544.7 787.9,544.8 794.2,545.2C800.6,545.7 806.9,546.1 810.5,547.1C814.1,548.2 814.2,548.7 816.1,551.5C818.0,554.3 820.5,559.4 821.8,564.0C823.0,568.6 823.4,578.2 823.6,579.0C823.9,579.8 823.1,568.4 823.1,569.0C823.1,569.6 823.9,579.9 823.6,582.5C823.4,585.2 825.5,584.6 821.5,585.1C817.5,585.7 806.0,585.8 799.7,585.7C793.3,585.6 786.2,584.8 783.5,584.6" fill="none" stroke="#161616" stroke-width="1.1"/>
<path d="M786.1,597.3L845.0,597.1" fill="none" stroke="#161616" stroke-width="1.5"/>
<path d="M786.1,598.8L820.5,598.3" fill="none" stroke="#161616" stroke-width="1.1"/>
<path d="M783.0,608.1C788.6,607.9 806.0,607.5 816.3,607.0C826.7,606.6 840.2,605.5 845.0,605.2" fill="none" stroke="#161616" stroke-width="1.5"/>
<path d="M816.3,607.0C816.8,608.5 818.8,612.1 818.9,615.9C819.1,619.6 818.5,625.4 817.4,629.4C816.2,633.4 814.4,637.1 812.2,639.8C809.9,642.5 807.1,644.1 803.8,645.6C800.5,647.0 796.5,648.1 792.4,648.7C788.2,649.3 783.2,649.6 778.8,649.2C774.5,648.9 769.8,647.6 766.3,646.6C762.9,645.6 759.4,644.0 758.0,643.5" fill="none" stroke="#161616" stroke-width="1.5"/>
<path d="M819.5,623.7C820.0,623.5 818.3,622.9 822.6,622.3C826.8,621.8 841.2,620.9 845.0,620.6" fill="none" stroke="#161616" stroke-width="1.1"/>
<path d="M816.9,632.5L845.0,630.7" fill="none" stroke="#161616" stroke-width="1.5"/>
<path d="M779.4,679.4C781.0,676.6 786.2,667.4 789.2,662.8C792.3,658.1 795.2,654.2 797.6,651.3C800.0,648.4 802.8,646.5 803.8,645.6" fill="none" stroke="#161616" stroke-width="1.5"/>
<path d="M810.1,663.8C812.5,660.9 821.4,649.6 824.7,646.6C828.0,643.6 826.8,645.8 829.9,645.6C833.0,645.3 841.1,644.8 843.4,645.0C845.8,645.3 845.3,645.6 843.9,647.1C842.5,648.7 839.4,652.9 835.1,654.4C830.7,655.9 820.8,655.7 817.9,656.0" fill="none" stroke="#161616" stroke-width="1.5"/>
<path d="M810.1,663.8C810.4,664.0 809.0,664.9 812.2,664.8C815.3,664.7 825.1,664.4 828.8,663.3C832.6,662.1 833.6,658.9 834.6,658.1" fill="none" stroke="#161616" stroke-width="1.5"/>
<path d="M827.3,656.0L828.8,659.6" fill="none" stroke="#161616" stroke-width="1.1"/>
<path d="M702.1,676.8C703.2,675.4 705.3,670.6 708.6,668.4C711.9,666.2 713.0,664.5 721.8,663.7C730.5,662.9 754.6,663.7 761.1,663.7" fill="none" stroke="#161616" stroke-width="1.1"/>
<path d="M768.6,664.6C769.4,665.6 772.7,667.4 773.3,670.3C773.9,673.1 772.8,677.4 772.4,681.5C771.9,685.6 770.8,692.4 770.5,694.6" fill="none" stroke="#161616" stroke-width="1.1"/>
<path d="M727.4,693.7C728.6,691.3 731.8,683.4 734.9,679.6C738.0,675.9 740.5,672.9 746.1,671.2C751.8,669.5 764.9,669.6 768.6,669.3" fill="none" stroke="#161616" stroke-width="1.1"/>
<path d="M733.0,693.7C733.9,691.7 734.6,683.7 738.6,681.5C742.7,679.3 753.0,679.9 757.4,680.6C761.8,681.2 763.3,683.1 764.9,685.3C766.4,687.4 766.4,692.3 766.8,693.7" fill="none" stroke="#161616" stroke-width="1.1"/>
<path d="M688.0,651.5L673.9,694.6" fill="none" stroke="#161616" stroke-width="1.5"/>
<path d="M658.0,660.9C660.5,660.6 669.6,660.3 673.0,659.0C676.4,657.8 677.7,654.3 678.6,653.4" fill="none" stroke="#161616" stroke-width="1.1"/>
<path d="M513.0,596.2L613.3,604.6" fill="none" stroke="#161616" stroke-width="1.5"/>
<path d="M509.3,604.6L511.1,599.0" fill="none" stroke="#161616" stroke-width="1.1"/>
<path d="M513.9,597.1C515.7,599.9 520.7,609.2 524.3,614.0C527.8,618.8 532.1,623.5 535.5,626.2C538.9,628.8 530.7,629.6 544.9,629.9C559.1,630.3 608.2,628.4 620.8,628.1" fill="none" stroke="#161616" stroke-width="1.5"/>
<path d="M509.3,651.5C511.4,650.3 518.3,647.6 522.4,644.0C526.4,640.4 531.8,632.3 533.6,629.9" fill="none" stroke="#161616" stroke-width="1.1"/>
<path d="M509.3,656.2L601.1,652.4" fill="none" stroke="#161616" stroke-width="2.0"/>
<path d="M509.3,654.3L513.0,655.6" fill="none" stroke="#161616" stroke-width="1.1"/>
<path d="M573.0,654.3L560.8,694.6" fill="none" stroke="#161616" stroke-width="1.5"/>
<path d="M509.3,694.6C509.9,691.2 511.4,678.8 513.0,674.0C514.6,669.2 511.8,667.4 518.6,665.6C525.5,663.7 547.8,662.9 554.3,662.8C560.8,662.6 558.3,659.8 557.6,664.6C557.0,669.5 554.8,687.0 550.5,691.8C546.2,696.7 534.9,693.4 531.8,693.7" fill="none" stroke="#161616" stroke-width="1.5"/>
<path d="M510.2,685.3C513.5,684.8 522.5,685.6 529.9,682.4C537.2,679.3 550.2,669.2 554.3,666.5" fill="none" stroke="#161616" stroke-width="1.1"/>
<path d="M529.9,682.4L531.8,693.7" fill="none" stroke="#161616" stroke-width="1.1"/>
<path d="M674.3,692.8L678.0,681.5" fill="none" stroke="#161616" stroke-width="1.5"/>
<path d="M602.0,558.4C601.8,556.7 602.9,555.9 603.5,555.0C604.1,554.1 604.9,553.7 605.8,553.2C606.7,552.8 607.9,552.4 609.0,552.3C610.1,552.2 610.6,551.6 612.4,552.8C614.2,554.0 616.5,556.4 619.9,559.4C623.3,562.4 628.6,566.2 633.0,570.6C637.4,575.0 644.8,580.9 646.0,585.6C647.2,590.3 642.7,597.6 640.5,598.8C638.3,600.0 635.5,595.8 633.0,593.0C630.5,590.2 628.6,585.0 625.5,581.9C622.4,578.8 617.7,577.2 614.3,574.4C610.9,571.6 606.9,567.7 604.9,565.0C602.9,562.3 602.2,560.1 602.0,558.4Z" fill="#c8cecc" stroke="#161616" stroke-width="1.5"/>
<path d="M604.0,560.0C604.8,560.9 607.3,564.3 609.0,565.5C610.7,566.7 612.2,567.0 614.0,567.0C615.8,567.0 619.0,565.8 620.0,565.5" fill="none" stroke="#161616" stroke-width="1.1"/>
<path d="M618.0,558.5C618.7,559.8 621.7,563.4 622.0,566.0C622.3,568.6 620.3,572.7 620.0,574.0" fill="none" stroke="#161616" stroke-width="1.1"/>
<path d="M628.0,586.5C628.8,585.4 631.3,581.7 633.0,580.0C634.7,578.3 637.2,577.1 638.0,576.5" fill="none" stroke="#161616" stroke-width="1.1"/>
<path d="M631.0,590.5C631.8,589.4 634.2,585.7 636.0,584.0C637.8,582.3 640.6,581.1 641.5,580.5" fill="none" stroke="#161616" stroke-width="1.1"/>
<path d="M634.5,594.5C635.3,593.4 637.8,589.7 639.5,588.0C641.2,586.3 643.7,585.1 644.5,584.5" fill="none" stroke="#161616" stroke-width="1.1"/>
<path d="M614.6,599.4L619.9,595.1L627.4,584.8L630.2,590.6L636.0,596.0L645.9,585.9L666.8,597.1L685.5,615.9L685.5,651.5L666.8,662.8L627.4,666.5L616.1,668.4L602.1,666.5L601.1,652.4L620.8,628.1L613.3,604.6Z" fill="#c8cecc" stroke="#161616" stroke-width="1.5"/>
<path d="M602.1,668.4C602.5,669.9 602.2,675.9 604.9,677.8C607.5,679.6 614.3,679.8 618.0,679.6C621.8,679.5 624.9,678.2 627.4,676.8C629.9,675.4 626.4,672.9 633.0,671.2C639.6,669.5 658.0,668.8 666.8,666.5C675.5,664.2 682.4,658.7 685.5,657.1" fill="#fff" stroke="#161616" stroke-width="1.1"/>
<path d="M627.4,651.5L649.9,638.4L670.5,638.0L648.0,655.3L627.4,657.1" fill="none" stroke="#161616" stroke-width="1.1"/>
<path d="M615.2,583.0L615.4,604.0" fill="none" stroke="#161616" stroke-width="1.5"/>
<path d="M625.5,654.3C628.0,653.1 635.2,649.3 640.5,646.8C645.8,644.3 654.6,640.6 657.4,639.3" fill="none" stroke="#161616" stroke-width="1.1"/>
<path d="M616.1,657.1L625.1,656.2L625.9,666.5L616.9,667.8Z" fill="#c8cecc" stroke="#161616" stroke-width="1.5"/>
<path d="M619.9,658.1L620.3,666.9" fill="none" stroke="#161616" stroke-width="1.1"/>
<path d="M603.0,664.6L615.2,657.1" fill="none" stroke="#161616" stroke-width="1.5"/>
<path d="M604.9,647.8C607.1,648.4 612.1,653.7 618.0,651.5C623.9,649.3 633.6,639.6 640.5,634.6C647.4,629.6 656.1,623.7 659.3,621.5" fill="none" stroke="#161616" stroke-width="1.1"/>
<path d="M616.1,615.9L625.5,593.4" fill="none" stroke="#161616" stroke-width="1.1"/>
<path d="M627.4,665.6C633.9,664.9 658.3,663.8 666.8,661.8C675.2,659.8 676.1,654.8 678.0,653.4" fill="none" stroke="#161616" stroke-width="2.0"/>
<path d="M658.0,638.4L671.1,637.4" fill="none" stroke="#161616" stroke-width="1.5"/>
<path d="M658.0,647.8L669.3,644.0" fill="none" stroke="#161616" stroke-width="1.1"/>
<ellipse cx="706.6" cy="566.1" rx="91.3" ry="66.4" transform="rotate(-125.9 706.6 566.1)" fill="#c8cecc" stroke="#000" stroke-width="2.0"/>
<path d="M653.0,553.1C652.6,552.6 651.4,551.8 650.5,550.0C649.6,548.2 648.0,545.0 647.4,542.5C646.8,540.0 646.5,537.5 646.8,535.0C647.1,532.5 648.0,530.2 649.3,527.5C650.5,524.8 653.0,521.7 654.3,518.8C655.5,515.9 656.0,512.5 656.8,510.0C657.6,507.5 657.8,505.8 659.3,503.8C660.8,501.8 662.8,499.5 665.5,498.1C668.2,496.7 673.8,496.0 675.5,495.6L681.1,498.7L683.6,498.7L686.2,498.9L688.7,499.2L691.3,499.6L694.0,500.1L696.6,500.8L699.3,501.6L702.0,502.5L704.7,503.5L707.4,504.7L710.1,506.0L712.8,507.4L715.4,508.9L718.1,510.5L720.7,512.2L723.3,514.1L725.9,516.0L728.4,518.1L730.9,520.2L733.3,522.4L735.7,524.7L738.0,527.1L740.3,529.6L742.5,532.1L721.3,544.0C719.9,543.6 716.6,542.0 713.0,541.5C709.4,541.0 703.9,540.7 699.7,540.7C695.5,540.7 691.6,540.6 688.0,541.3C684.4,542.0 680.9,543.5 678.0,545.0C675.1,546.5 673.5,548.8 670.5,550.0C667.5,551.2 662.9,551.9 660.0,552.4C657.1,552.9 654.2,553.0 653.0,553.1Z" fill="#fff" stroke="#000" stroke-width="2.0"/>
<path d="M696.3,509.0C698.0,510.9 703.8,516.8 706.3,520.7C708.8,524.6 710.5,529.0 711.3,532.3C712.2,535.7 711.3,539.3 711.3,540.7" fill="none" stroke="#161616" stroke-width="1.5"/>
<path d="M711.3,524.8C713.0,525.2 717.7,526.9 721.3,527.3C724.9,527.8 731.1,527.3 733.0,527.3" fill="none" stroke="#161616" stroke-width="1.5"/>
<path d="M654.7,517.3C656.9,517.6 663.6,517.6 668.0,519.0C672.4,520.4 677.2,522.9 681.3,525.7C685.5,528.4 691.1,534.0 693.0,535.7" fill="none" stroke="#161616" stroke-width="1.1"/>
<ellipse cx="718" cy="572.6" rx="28.4" ry="28.8" transform="rotate(0 718 572.6)" fill="none" stroke="#161616" stroke-width="1.1"/>
<ellipse cx="716.3" cy="561" rx="15" ry="12.2" transform="rotate(20 716.3 561)" fill="none" stroke="#161616" stroke-width="1.1"/>
<ellipse cx="716.6" cy="561.6" rx="12" ry="9.4" transform="rotate(20 716.6 561.6)" fill="none" stroke="#161616" stroke-width="1.1"/>
<path d="M652.2,553.3C655.4,552.9 667.2,550.3 671.3,550.8C675.5,551.4 675.4,552.9 677.2,556.7C679.0,560.4 680.2,568.3 682.2,573.3C684.1,578.3 687.7,584.4 688.8,586.7" fill="none" stroke="#161616" stroke-width="1.1"/>
<path d="M644.7,548.3C645.2,550.8 646.3,558.6 648.0,563.3C649.7,568.1 652.7,573.9 654.7,576.7C656.6,579.4 658.8,579.4 659.7,580.0" fill="none" stroke="#161616" stroke-width="1.1"/>
<path d="M659.7,580.0C661.6,579.7 667.4,577.5 671.3,578.3C675.2,579.2 679.9,582.5 683.0,585.0C686.1,587.5 688.6,591.9 689.7,593.3" fill="none" stroke="#161616" stroke-width="1.1"/>
<path d="M659.7,580.0C659.9,581.4 659.4,585.6 661.3,588.3C663.3,591.1 666.9,593.1 671.3,596.7C675.8,600.3 682.4,605.3 688.0,610.0C693.6,614.7 701.9,622.5 704.7,625.0" fill="none" stroke="#161616" stroke-width="1.1"/>
<path d="M663.0,590.0C666.1,591.1 676.1,593.6 681.3,596.7C686.6,599.7 690.5,603.3 694.7,608.3C698.8,613.3 704.4,623.6 706.3,626.7" fill="none" stroke="#161616" stroke-width="1.1"/>
<path d="M701.3,623.3L707.2,627.5" fill="none" stroke="#161616" stroke-width="2.0"/>
<path d="M703.0,606.7C704.7,607.8 709.9,610.6 713.0,613.3C716.1,616.1 719.4,620.6 721.3,623.3C723.3,626.1 724.1,628.9 724.7,630.0" fill="none" stroke="#161616" stroke-width="1.1"/>
<path d="M708.0,631.7L724.7,634.2" fill="none" stroke="#161616" stroke-width="1.1"/>
<path d="M709.7,628.3L726.3,631.7" fill="none" stroke="#161616" stroke-width="1.1"/>
<path d="M744.7,567.5C745.8,569.0 750.1,573.5 751.3,576.7C752.6,579.9 752.0,585.0 752.2,586.7" fill="none" stroke="#161616" stroke-width="1.1"/>
<path d="M753.0,556.7C754.7,557.8 760.6,560.3 763.0,563.3C765.4,566.4 766.5,573.1 767.2,575.0" fill="none" stroke="#161616" stroke-width="1.1"/>
<path d="M752.2,581.7C754.8,581.0 763.8,578.6 768.0,577.5C772.2,576.4 775.6,575.7 777.2,575.3" fill="none" stroke="#161616" stroke-width="1.5"/>
<path d="M648.0,549.0C647.9,550.8 647.0,556.7 647.2,560.0C647.4,563.3 647.9,565.7 649.0,569.0C650.1,572.3 651.9,576.6 654.0,580.0C656.1,583.4 659.1,586.4 661.8,589.6C664.5,592.9 667.3,596.5 670.0,599.5C672.7,602.5 675.2,604.9 678.0,607.5C680.8,610.1 683.6,612.7 686.5,615.0C689.4,617.3 692.1,619.2 695.5,621.5C698.9,623.8 702.4,627.0 706.8,629.0C711.2,631.0 717.4,632.6 721.8,633.7C726.2,634.8 731.1,635.2 733.0,635.5" fill="none" stroke="#161616" stroke-width="2.0"/>
<path d="M752.7,587.8C754.9,584.3 762.6,583.4 764.9,585.9C767.2,588.4 767.3,597.1 766.4,602.8C765.4,608.4 761.7,615.7 759.3,619.6C756.8,623.5 753.6,625.6 751.8,626.2C749.9,626.8 748.0,626.7 748.0,623.4C748.0,620.1 751.0,612.4 751.8,606.5C752.5,600.6 750.5,591.2 752.7,587.8Z" fill="#fff" stroke="#161616" stroke-width="2.0"/>
<path d="M668.8,469.3L688.0,475.7L706.3,484.8L696.3,486.5L707.2,504.0L688.0,506.5L673.0,485.7L658.0,484.8Z" fill="#fff" stroke="#fff" stroke-width="3.0"/>
<path d="M668.8,469.3L688.0,475.7L706.3,484.8L696.3,486.5L707.2,504.0L688.0,506.5L673.0,485.7L658.0,484.8Z" fill="#fca1fb" stroke="none" stroke-width="0"/>
<path d="M658.0,484.8L673.0,485.7L688.0,506.5L707.2,504.0" fill="none" stroke="#000" stroke-width="3.8"/>
<path d="M696.3,486.5L706.3,484.8" fill="none" stroke="#000" stroke-width="3.8"/>
<path d="M668.8,469.3L688.0,475.7L706.3,484.8L696.3,486.5L707.2,504.0L688.0,506.5L673.0,485.7L658.0,484.8Z" fill="none" stroke="#000" stroke-width="0.6"/>
<path d="M718.8,555.7L728.8,533.2L732.2,539.8L749.7,529.0L746.3,523.2L771.3,530.7L763.8,555.7L759.7,549.8L740.5,559.0L743.0,564.8Z" fill="#fff" stroke="#fff" stroke-width="3.0"/>
<path d="M718.8,555.7L728.8,533.2L732.2,539.8L749.7,529.0L746.3,523.2L771.3,530.7L763.8,555.7L759.7,549.8L740.5,559.0L743.0,564.8Z" fill="#fca1fb" stroke="none" stroke-width="0"/>
<path d="M771.3,530.7L763.8,555.7L759.7,549.8L740.5,559.0L743.0,564.8" fill="none" stroke="#000" stroke-width="3.8"/>
<path d="M728.8,533.2L732.2,539.8" fill="none" stroke="#000" stroke-width="3.8"/>
<path d="M718.8,555.7L728.8,533.2L732.2,539.8L749.7,529.0L746.3,523.2L771.3,530.7L763.8,555.7L759.7,549.8L740.5,559.0L743.0,564.8Z" fill="none" stroke="#000" stroke-width="0.6"/>
<path d="M719.9,608.4L740.5,606.1L748.0,632.8L759.3,632.8L742.4,656.8L716.1,637.4L730.2,634.6Z" fill="#fff" stroke="#fff" stroke-width="3.0"/>
<path d="M719.9,608.4L740.5,606.1L748.0,632.8L759.3,632.8L742.4,656.8L716.1,637.4L730.2,634.6Z" fill="#fca1fb" stroke="none" stroke-width="0"/>
<path d="M740.5,606.1L719.9,608.4L730.2,634.6L716.1,637.4L742.4,656.8" fill="none" stroke="#000" stroke-width="3.8"/>
<path d="M719.9,608.4L740.5,606.1L748.0,632.8L759.3,632.8L742.4,656.8L716.1,637.4L730.2,634.6Z" fill="none" stroke="#000" stroke-width="0.6"/>
</g>
<rect x="498.75" y="459.3" width="350.8" height="238" stroke="#3a3a3a" stroke-width="1.5"/>
<text x="776.3" y="691.3" font-family="Liberation Sans, sans-serif" font-size="11px" fill="#111" stroke="none">STO34AP005</text>
</svg>
<svg class="abs" style="left:497px;top:758px" width="355" height="243" viewBox="497 758 355 243" fill="none" stroke-linecap="round" stroke-linejoin="round">
<defs><clipPath id="c3"><rect x="502.2" y="761" width="343.6" height="236"/></clipPath></defs><g clip-path="url(#c3)">
<path d="M531.3,776.7C531.8,775.6 532.7,772.2 533.8,770.0C534.9,767.8 537.3,764.4 538.0,763.3" fill="none" stroke="#161616" stroke-width="1.1" fill-rule="evenodd"/>
<path d="M537.2,767.0C541.8,766.7 555.9,765.9 564.7,765.3C573.4,764.8 581.6,764.1 589.7,763.7C597.7,763.3 609.1,763.1 613.0,763.0" fill="none" stroke="#161616" stroke-width="1.1" fill-rule="evenodd"/>
<path d="M502.2,787.5C507.0,785.8 520.9,780.1 531.3,777.5C541.8,774.9 556.9,773.5 564.7,771.7C572.4,769.9 574.7,767.8 578.0,766.7C581.3,765.6 583.6,765.3 584.7,765.0" fill="none" stroke="#161616" stroke-width="1.5" fill-rule="evenodd"/>
<path d="M584.7,765.0C586.9,766.1 593.6,769.7 598.0,771.7C602.4,773.6 609.1,775.8 611.3,776.7" fill="none" stroke="#161616" stroke-width="1.1" fill-rule="evenodd"/>
<path d="M502.2,795.0C505.6,793.8 515.4,789.4 523.0,787.5C530.6,785.6 539.7,784.3 548.0,783.3C556.3,782.4 565.8,782.1 573.0,781.7C580.2,781.2 577.2,780.9 591.3,780.8C605.5,780.8 639.7,781.2 658.0,781.3C676.3,781.5 685.2,781.5 701.3,781.7C717.4,781.9 738.6,781.9 754.7,782.5C770.8,783.1 790.8,784.6 798.0,785.0" fill="none" stroke="#161616" stroke-width="1.5" fill-rule="evenodd"/>
<path d="M502.2,799.2C505.6,797.9 515.4,793.8 523.0,791.7C530.6,789.6 540.2,787.8 548.0,786.7C555.8,785.6 566.1,785.3 569.7,785.0" fill="none" stroke="#161616" stroke-width="1.1" fill-rule="evenodd"/>
<path d="M502.2,807.5C505.1,806.2 513.4,802.2 519.7,800.0C525.9,797.8 532.7,795.6 539.7,794.2C546.6,792.8 557.7,792.1 561.3,791.7" fill="none" stroke="#161616" stroke-width="1.1" fill-rule="evenodd"/>
<path d="M502.2,815.0C505.6,814.6 516.8,813.9 523.0,812.5C529.2,811.1 534.7,809.0 539.7,806.7C544.7,804.3 549.4,800.8 553.0,798.3C556.6,795.8 558.3,794.0 561.3,791.7C564.4,789.3 569.7,785.4 571.3,784.2" fill="none" stroke="#161616" stroke-width="1.5" fill-rule="evenodd"/>
<path d="M548.8,814.2C551.5,811.8 559.2,804.3 564.7,800.0C570.1,795.7 576.9,791.2 581.3,788.3C585.8,785.4 589.7,783.5 591.3,782.5" fill="none" stroke="#161616" stroke-width="1.1" fill-rule="evenodd"/>
<path d="M547.7,815.3C551.1,812.6 561.3,804.2 568.0,799.2C574.7,794.1 584.7,787.4 588.0,785.0" fill="none" stroke="#161616" stroke-width="1.1" fill-rule="evenodd"/>
<path d="M502.2,835.0C503.7,835.8 508.6,837.5 511.3,840.0C514.1,842.5 517.2,846.1 518.8,850.0C520.5,853.9 521.2,858.9 521.3,863.3C521.5,867.8 520.4,875.6 519.7,876.7C518.9,877.8 517.9,870.8 516.8,870.0C515.6,869.2 515.3,870.9 513.0,871.9C510.7,872.8 504.4,875.0 502.7,875.6" fill="none" stroke="#161616" stroke-width="1.1" fill-rule="evenodd"/>
<path d="M502.2,840.0C503.4,840.8 507.4,842.5 509.7,845.0C511.9,847.5 514.4,851.4 515.5,855.0C516.6,858.6 516.6,863.1 516.3,866.7C516.1,870.3 514.1,875.2 513.8,876.7C513.6,878.2 516.7,875.0 514.9,875.6C513.0,876.2 504.7,879.5 502.7,880.3" fill="none" stroke="#161616" stroke-width="1.1" fill-rule="evenodd"/>
<path d="M502.2,845.0C503.1,845.8 506.3,847.5 508.0,850.0C509.7,852.5 511.6,856.4 512.2,860.0C512.7,863.6 512.3,868.3 511.3,871.7C510.4,875.0 507.2,878.6 506.3,880.0" fill="none" stroke="#161616" stroke-width="1.1" fill-rule="evenodd"/>
<path d="M502.7,885.0C505.0,884.1 513.6,881.4 516.8,879.4C519.9,877.3 520.7,873.9 521.4,872.8" fill="none" stroke="#161616" stroke-width="1.1" fill-rule="evenodd"/>
<path d="M523.0,861.7C522.6,862.5 520.8,864.7 520.5,866.7C520.2,868.6 521.2,872.2 521.3,873.3" fill="none" stroke="#161616" stroke-width="1.1" fill-rule="evenodd"/>
<path d="M671.3,763.3C675.5,763.8 686.6,764.6 696.3,765.8C706.1,767.1 717.2,769.7 729.7,770.8C742.2,771.9 761.6,772.1 771.3,772.5C781.1,772.9 775.6,772.1 788.0,773.1C800.4,774.2 835.9,777.8 845.5,778.8" fill="none" stroke="#161616" stroke-width="1.5" fill-rule="evenodd"/>
<path d="M660.5,776.3C663.1,775.4 670.9,772.5 676.3,770.8C681.8,769.2 690.2,767.1 693.0,766.3" fill="none" stroke="#161616" stroke-width="1.1" fill-rule="evenodd"/>
<path d="M703.0,782.7C711.6,782.8 740.5,782.9 754.7,783.3C768.8,783.7 776.2,784.2 788.0,785.0C799.8,785.8 815.9,787.1 825.5,788.1C835.1,789.2 842.2,790.7 845.5,791.2" fill="none" stroke="#161616" stroke-width="1.1" fill-rule="evenodd"/>
<path d="M738.0,781.9C746.3,782.1 773.4,782.4 788.0,783.1C802.6,783.9 815.9,785.3 825.5,786.2C835.1,787.2 842.2,788.3 845.5,788.8" fill="none" stroke="#161616" stroke-width="1.5" fill-rule="evenodd"/>
<path d="M704.7,785.0C706.6,786.1 712.4,789.3 716.3,791.7C720.2,794.0 723.8,796.9 728.0,799.2C732.2,801.4 736.3,803.5 741.3,805.0C746.3,806.5 753.3,807.5 758.0,808.3C762.7,809.2 754.7,809.6 769.2,810.0C783.8,810.4 832.8,810.5 845.5,810.6" fill="none" stroke="#161616" stroke-width="1.5" fill-rule="evenodd"/>
<path d="M721.8,791.9L792.4,791.9" fill="none" stroke="#161616" stroke-width="1.5" fill-rule="evenodd"/>
<path d="M805.5,791.9L845.5,791.9" fill="none" stroke="#161616" stroke-width="1.5" fill-rule="evenodd"/>
<path d="M731.8,804.8L792.4,804.8" fill="none" stroke="#161616" stroke-width="1.5" fill-rule="evenodd"/>
<path d="M805.5,804.8L845.5,804.8" fill="none" stroke="#161616" stroke-width="1.5" fill-rule="evenodd"/>
<path d="M726.8,798.5L754.2,798.5" fill="none" stroke="#161616" stroke-width="1.5" fill-rule="evenodd"/>
<path d="M771.8,798.5L792.4,798.5" fill="none" stroke="#161616" stroke-width="1.5" fill-rule="evenodd"/>
<path d="M805.5,798.5L826.8,798.5" fill="none" stroke="#161616" stroke-width="1.5" fill-rule="evenodd"/>
<path d="M793.0,786.5L793.0,810.0" fill="none" stroke="#161616" stroke-width="1.6" fill-rule="evenodd"/>
<path d="M804.8,786.9L804.8,810.0" fill="none" stroke="#161616" stroke-width="1.6" fill-rule="evenodd"/>
<rect x="754.3" y="794.4" width="17.5" height="5.9" rx="2.6" fill="#fff" stroke="#161616" stroke-width="1.5"/>
<rect x="826.8" y="794.4" width="17.5" height="5.9" rx="2.6" fill="#fff" stroke="#161616" stroke-width="1.5"/>
<path d="M673.8,781.7C676.2,782.8 683.4,785.6 688.0,788.3C692.6,791.1 697.4,794.7 701.3,798.3C705.2,801.9 708.8,805.8 711.3,810.0C713.8,814.2 715.6,819.2 716.3,823.3C717.0,827.5 715.6,833.1 715.5,835.0" fill="none" stroke="#161616" stroke-width="1.5" fill-rule="evenodd"/>
<path d="M659.7,788.3C662.7,789.2 672.2,791.1 678.0,793.3C683.8,795.6 691.9,800.3 694.7,801.7" fill="none" stroke="#161616" stroke-width="1.1" fill-rule="evenodd"/>
<path d="M698.0,782.5C700.2,784.6 707.4,790.4 711.3,795.0C715.2,799.6 718.8,804.7 721.3,810.0C723.8,815.3 725.8,821.1 726.3,826.7C726.9,832.2 725.4,839.3 724.7,843.3C724.0,847.4 722.6,849.6 722.2,850.8" fill="none" stroke="#161616" stroke-width="1.5" fill-rule="evenodd"/>
<path d="M845.5,818.5C838.0,818.9 812.2,819.8 800.5,820.6C788.8,821.5 782.6,822.4 775.5,823.8C768.4,825.1 763.0,826.7 758.0,828.8C753.0,830.8 748.8,833.3 745.5,836.2C742.2,839.2 739.8,841.7 738.0,846.2C736.2,850.8 734.9,858.8 734.7,863.3C734.4,867.8 735.6,870.7 736.3,873.3C737.0,876.0 738.4,878.2 738.8,879.2" fill="none" stroke="#161616" stroke-width="1.1" fill-rule="evenodd"/>
<path d="M845.5,827.5C838.0,827.7 812.4,827.9 800.5,828.5C788.6,829.1 779.5,830.1 774.2,831.0C769.0,831.9 770.9,832.5 769.2,833.8C767.6,835.0 766.3,837.4 764.2,838.8C762.2,840.1 759.2,840.4 756.8,841.9C754.2,843.3 751.2,845.1 749.2,847.5C747.3,849.9 745.6,853.1 744.9,856.2C744.1,859.4 744.1,862.9 744.9,866.2C745.6,869.6 747.7,874.0 749.2,876.2C750.8,878.5 753.4,879.4 754.2,880.0" fill="none" stroke="#161616" stroke-width="1.1" fill-rule="evenodd"/>
<ellipse cx="765.5" cy="861.4" rx="17.1" ry="17.1" transform="rotate(0 765.5 861.4)" fill="none" stroke="#161616" stroke-width="1.1"/>
<path d="M735.8,872.8L741.4,882.2" fill="none" stroke="#161616" stroke-width="1.1" fill-rule="evenodd"/>
<path d="M748.0,877.5L761.1,882.2" fill="none" stroke="#161616" stroke-width="1.1" fill-rule="evenodd"/>
<path d="M726.4,870.0C726.6,870.9 726.4,874.2 727.4,875.6C728.3,877.0 731.3,878.0 732.1,878.4" fill="none" stroke="#161616" stroke-width="1.1" fill-rule="evenodd"/>
<path d="M726.3,865.0C727.2,865.6 730.5,866.7 731.3,868.3C732.2,870.0 732.0,873.3 731.3,875.0C730.6,876.7 727.9,878.1 727.2,878.7" fill="none" stroke="#161616" stroke-width="1.1" fill-rule="evenodd"/>
<path d="M502.7,897.2L522.4,899.1" fill="none" stroke="#161616" stroke-width="1.1" fill-rule="evenodd"/>
<path d="M530.8,899.1L554.3,901.9" fill="none" stroke="#161616" stroke-width="1.1" fill-rule="evenodd"/>
<path d="M502.7,929.6L535.5,929.6" fill="none" stroke="#161616" stroke-width="1.5" fill-rule="evenodd"/>
<path d="M502.7,945.0C516.0,945.0 568.2,944.4 582.4,945.0C596.6,945.6 587.1,948.1 588.0,948.8" fill="none" stroke="#161616" stroke-width="1.5" fill-rule="evenodd"/>
<path d="M502.7,951.6L546.8,951.6" fill="none" stroke="#161616" stroke-width="1.1" fill-rule="evenodd"/>
<path d="M502.7,955.3C504.3,956.4 504.3,960.9 512.1,961.9C519.9,962.8 543.3,961.1 549.6,960.9" fill="none" stroke="#161616" stroke-width="1.5" fill-rule="evenodd"/>
<path d="M512.1,961.9L512.1,977.8" fill="none" stroke="#161616" stroke-width="1.1" fill-rule="evenodd"/>
<path d="M502.7,975.0L505.5,978.4L548.6,978.4L551.4,976.9L548.6,954.4" fill="none" stroke="#161616" stroke-width="1.5" fill-rule="evenodd"/>
<path d="M563.6,969.4L567.4,990.0" fill="none" stroke="#161616" stroke-width="1.1" fill-rule="evenodd"/>
<path d="M708.8,942.5C708.5,943.8 708.3,947.5 707.5,950.0C706.7,952.5 706.0,955.4 703.8,957.5C701.5,959.6 695.4,961.7 693.8,962.5" fill="none" stroke="#161616" stroke-width="1.1" fill-rule="evenodd"/>
<path d="M706.2,946.2C706.0,947.7 706.0,952.7 705.0,955.0C704.0,957.3 702.1,958.5 700.0,960.0C697.9,961.5 693.8,963.1 692.5,963.8" fill="none" stroke="#161616" stroke-width="1.1" fill-rule="evenodd"/>
<path d="M708.8,945.0C709.8,945.3 713.4,945.4 715.0,946.9C716.6,948.3 717.4,946.6 718.1,953.8C718.9,960.9 719.2,984.0 719.4,990.0" fill="none" stroke="#161616" stroke-width="1.1" fill-rule="evenodd"/>
<path d="M721.2,916.2C721.9,914.8 724.1,910.2 725.0,907.5C725.9,904.8 726.6,904.7 726.9,900.0C727.1,895.3 726.8,884.4 726.4,879.4C726.1,874.4 724.9,871.6 724.6,870.0" fill="none" stroke="#161616" stroke-width="1.5" fill-rule="evenodd"/>
<path d="M723.8,909.4L726.9,909.8" fill="none" stroke="#161616" stroke-width="1.1" fill-rule="evenodd"/>
<ellipse cx="623.9" cy="883.1" rx="101.6" ry="98.8" transform="rotate(19.2 623.9 883.1)" fill="#fff" stroke="#000" stroke-width="2.0"/>
<path d="M538.8,866.7C539.2,865.0 539.5,860.6 541.3,856.7C543.1,852.8 546.3,847.5 549.7,843.3C553.0,839.2 558.0,835.3 561.3,831.7C564.7,828.1 566.3,825.3 569.7,821.7C573.0,818.1 576.6,813.5 581.3,810.0C586.1,806.5 592.4,803.1 598.0,800.8C603.6,798.6 609.1,797.5 614.7,796.7C620.2,795.8 625.8,795.4 631.3,795.8C636.9,796.2 642.4,797.1 648.0,799.2C653.6,801.2 660.2,805.7 664.7,808.3C669.1,811.0 671.6,811.9 674.7,815.0C677.7,818.1 679.9,822.8 683.0,826.7C686.1,830.6 689.7,833.9 693.0,838.3C696.3,842.8 700.5,849.2 703.0,853.3C705.5,857.5 707.4,860.3 708.0,863.3C708.6,866.4 708.0,870.0 706.3,871.7C704.7,873.3 699.4,873.1 698.0,873.3" fill="none" stroke="#161616" stroke-width="2.0" fill-rule="evenodd"/>
<path d="M569.7,822.5C572.2,821.0 579.4,816.0 584.7,813.3C589.9,810.7 594.7,808.1 601.3,806.7C608.0,805.3 615.2,805.1 624.7,805.0C634.1,804.9 651.6,805.6 658.0,805.8C664.4,806.1 660.4,805.4 663.0,806.7C665.6,808.0 672.0,812.5 673.8,813.7" fill="none" stroke="#161616" stroke-width="1.1" fill-rule="evenodd"/>
<path d="M567.2,801.7C567.9,802.8 570.1,806.4 571.3,808.3C572.6,810.3 574.1,812.5 574.7,813.3" fill="none" stroke="#161616" stroke-width="1.1" fill-rule="evenodd"/>
<path d="M682.2,802.5L675.5,813.3" fill="none" stroke="#161616" stroke-width="1.1" fill-rule="evenodd"/>
<path d="M538.8,866.7C539.0,867.2 538.1,869.2 539.7,870.0C541.2,870.8 545.8,871.8 548.0,871.7C550.2,871.5 547.4,870.3 553.0,869.2C558.6,868.1 576.6,865.7 581.3,865.0" fill="none" stroke="#161616" stroke-width="1.5" fill-rule="evenodd"/>
<path d="M547.2,849.2L553.0,868.3" fill="none" stroke="#161616" stroke-width="1.1" fill-rule="evenodd"/>
<path d="M554.7,841.7L562.2,867.5" fill="none" stroke="#161616" stroke-width="1.1" fill-rule="evenodd"/>
<path d="M562.2,833.3C562.9,836.4 564.2,846.2 566.3,851.7C568.4,857.1 573.3,863.5 574.7,865.8" fill="none" stroke="#161616" stroke-width="1.1" fill-rule="evenodd"/>
<path d="M540.5,865.0C541.5,865.3 545.2,865.7 546.3,866.7C547.4,867.6 547.0,870.1 547.2,870.8" fill="none" stroke="#161616" stroke-width="1.1" fill-rule="evenodd"/>
<path d="M543.0,880.0C543.4,879.2 543.8,876.4 545.5,875.0C547.2,873.6 551.8,872.2 553.0,871.7" fill="none" stroke="#161616" stroke-width="1.1" fill-rule="evenodd"/>
<path d="M544.9,873.8C544.4,876.3 542.4,883.4 542.1,888.8C541.8,894.1 542.8,902.8 543.0,905.6" fill="none" stroke="#161616" stroke-width="1.5" fill-rule="evenodd"/>
<path d="M531.8,900.0C535.5,900.5 548.0,902.0 554.3,902.8C560.5,903.6 566.1,903.6 569.3,904.7C572.4,905.8 572.4,908.6 573.0,909.4" fill="none" stroke="#161616" stroke-width="1.1" fill-rule="evenodd"/>
<path d="M664.7,866.7C667.2,867.2 674.4,868.9 679.7,870.0C684.9,871.1 692.2,872.5 696.3,873.3C700.5,874.2 703.3,874.7 704.7,875.0" fill="none" stroke="#161616" stroke-width="1.5" fill-rule="evenodd"/>
<path d="M706.3,858.3C705.6,859.7 703.7,864.3 702.2,866.7C700.6,869.0 698.0,871.5 697.2,872.5" fill="none" stroke="#161616" stroke-width="1.1" fill-rule="evenodd"/>
<path d="M673.1,908.1C674.3,907.5 675.1,905.3 680.0,904.4C684.9,903.5 696.7,903.2 702.5,902.8C708.3,902.3 712.9,902.0 715.0,901.9" fill="none" stroke="#161616" stroke-width="1.1" fill-rule="evenodd"/>
<path d="M673.8,917.5C674.8,916.9 676.0,914.9 680.0,913.8C684.0,912.6 693.9,910.8 697.5,910.6C701.1,910.4 701.2,911.5 701.9,912.5C702.5,913.5 701.4,916.1 701.2,916.9" fill="none" stroke="#161616" stroke-width="1.5" fill-rule="evenodd"/>
<path d="M697.5,910.6C698.3,909.7 701.5,906.8 702.5,905.0C703.5,903.2 703.7,902.7 703.8,900.0C703.8,897.3 703.4,892.8 703.0,888.8C702.6,884.7 701.9,878.8 701.1,875.6C700.3,872.5 698.8,870.9 698.3,870.0" fill="none" stroke="#161616" stroke-width="1.5" fill-rule="evenodd"/>
<path d="M546.8,909.4C548.5,908.4 550.5,906.9 554.3,907.5C558.0,908.1 565.2,909.1 569.3,913.1C573.3,917.2 575.5,925.9 578.6,931.9C581.8,937.8 585.5,944.7 588.0,948.8C590.5,952.8 593.9,954.7 593.6,956.3C593.3,957.8 589.6,958.8 586.1,958.1C582.7,957.5 577.7,955.6 573.0,952.5C568.3,949.4 562.4,944.4 558.0,939.4C553.6,934.4 549.1,926.9 546.8,922.5C544.4,918.1 543.9,915.3 543.9,913.1C543.9,910.9 545.0,910.3 546.8,909.4Z" fill="none" stroke="#161616" stroke-width="2.0" fill-rule="evenodd"/>
<path d="M563.6,949.7L556.1,958.1" fill="none" stroke="#161616" stroke-width="1.1" fill-rule="evenodd"/>
<path d="M552.4,929.6L577.7,929.6" fill="none" stroke="#161616" stroke-width="1.1" fill-rule="evenodd"/>
<path d="M560.8,945.0C564.4,945.0 577.9,944.4 582.4,945.0C586.8,945.6 586.8,947.8 587.6,948.4" fill="none" stroke="#161616" stroke-width="1.1" fill-rule="evenodd"/>
<path d="M667.5,928.8C666.2,930.2 662.3,934.6 660.0,937.5C657.7,940.4 655.7,943.4 653.8,946.2C651.8,949.1 647.9,952.3 648.1,954.4C648.3,956.5 652.2,958.2 655.0,958.8C657.8,959.3 661.5,958.8 665.0,957.5C668.5,956.2 672.9,953.5 676.2,951.2C679.6,949.0 682.7,945.9 685.0,943.8C687.3,941.6 688.8,939.8 690.0,938.1C691.2,936.5 692.1,934.5 692.5,933.8" fill="none" stroke="#161616" stroke-width="2.0" fill-rule="evenodd"/>
<path d="M648.1,953.8L668.8,953.8" fill="none" stroke="#161616" stroke-width="1.1" fill-rule="evenodd"/>
<path d="M660.6,941.2C663.6,942.4 674.3,944.6 678.8,948.1C683.2,951.7 686.0,960.1 687.5,962.5" fill="none" stroke="#161616" stroke-width="1.1" fill-rule="evenodd"/>
<path d="M657.5,930.6L646.2,942.5" fill="none" stroke="#161616" stroke-width="1.1" fill-rule="evenodd"/>
<path d="M578.6,931.9C579.9,934.1 583.3,941.3 586.1,945.0C588.9,948.8 593.2,951.9 595.5,954.4C597.8,956.9 598.6,958.1 600.2,960.0C601.8,961.9 598.8,964.7 604.9,965.6C611.0,966.6 630.7,966.6 636.8,965.6C642.8,964.7 639.6,962.2 641.4,960.0C643.3,957.8 646.9,953.8 648.0,952.5" fill="none" stroke="#161616" stroke-width="1.5" fill-rule="evenodd"/>
<path d="M610.5,964.7L610.5,967.5" fill="none" stroke="#161616" stroke-width="1.1" fill-rule="evenodd"/>
<path d="M629.3,964.7L629.3,967.5" fill="none" stroke="#161616" stroke-width="1.1" fill-rule="evenodd"/>
<ellipse cx="623.1" cy="897" rx="50.3" ry="44.2" transform="rotate(0 623.1 897)" fill="#fff" stroke="#161616" stroke-width="1.1"/>
<ellipse cx="623.1" cy="897" rx="48" ry="42" transform="rotate(0 623.1 897)" fill="#dbdfdd" stroke="#000" stroke-width="2.4"/>
<ellipse cx="622.7" cy="891.5" rx="37.5" ry="37" transform="rotate(0 622.7 891.5)" fill="none" stroke="#161616" stroke-width="1.1"/>
<ellipse cx="622.7" cy="883.5" rx="23.4" ry="12.7" transform="rotate(0 622.7 883.5)" fill="none" stroke="#161616" stroke-width="1.1"/>
<ellipse cx="622.7" cy="883.9" rx="18.6" ry="10.4" transform="rotate(0 622.7 883.9)" fill="none" stroke="#161616" stroke-width="1.6"/>
<ellipse cx="622.7" cy="878.3" rx="12.6" ry="3.9" transform="rotate(0 622.7 878.3)" fill="none" stroke="#161616" stroke-width="1.4"/>
<ellipse cx="622.7" cy="884.2" rx="4.3" ry="9.4" transform="rotate(0 622.7 884.2)" fill="none" stroke="#161616" stroke-width="1.4"/>
<path d="M606.0,882.0C607.2,883.3 610.2,888.1 613.0,890.0C615.8,891.9 619.5,893.5 622.7,893.5C625.9,893.5 629.6,891.9 632.4,890.0C635.2,888.1 638.2,883.3 639.4,882.0" fill="none" stroke="#161616" stroke-width="1.2" fill-rule="evenodd"/>
<text x="621.9" y="911.2" font-family="Liberation Sans, sans-serif" font-size="5.4px" text-anchor="middle" fill="#2a2a2a" stroke="none">SRS</text>
<text x="621.9" y="916.6" font-family="Liberation Sans, sans-serif" font-size="5.4px" text-anchor="middle" fill="#2a2a2a" stroke="none">AIRBAG</text>
<path d="M616.8,906.2L627.0,906.2" fill="none" stroke="#161616" stroke-width="0.6" fill-rule="evenodd"/>
<rect x="617.3" y="919.8" width="8.6" height="6" rx="0.8" fill="#444" stroke="#161616" stroke-width="0.8"/>
<path d="M619.0,922.2L624.2,922.2" fill="none" stroke="#ddd" stroke-width="0.7" fill-rule="evenodd"/>
<path d="M619.0,924.0L624.2,924.0" fill="none" stroke="#ddd" stroke-width="0.7" fill-rule="evenodd"/>
<path d="M744.5,887.1 H831.2 Q844.2,887.1 844.2,900.1 V963.5 Q844.2,976.5 831.2,976.5 H744.5 Q731.5,976.5 731.5,963.5 V941.8 L629.3,922.1 L731.5,920.3 V900.1 Q731.5,887.1 744.5,887.1 Z" fill="#fff" stroke="none" stroke-width="0" fill-rule="evenodd"/>
<path d="M731.5,920.3 V900.1 Q731.5,887.1 744.5,887.1 H831.2 Q844.2,887.1 844.2,900.1 V963.5 Q844.2,976.5 831.2,976.5 H744.5 Q731.5,976.5 731.5,963.5 V941.8" fill="none" stroke="#000" stroke-width="2.6" fill-rule="evenodd"/>
<path d="M629.3,922.5L732.1,921.6L732.1,919.0L629.3,921.7Z" fill="#000" stroke="#000" stroke-width="0.3" fill-rule="evenodd"/>
<path d="M629.2,922.5L731.9,943.1L732.3,940.5L629.4,921.7Z" fill="#000" stroke="#000" stroke-width="0.3" fill-rule="evenodd"/>
<rect x="745.2" y="903" width="85.8" height="57.2" rx="9" fill="#fff" stroke="#111" stroke-width="1.7"/>
<path d="M756.10,911.60 C758.60,919.60 766.10,924.80 778.10,926.20 C792.10,927.80 808.10,927.20 822.40,923.90 L822.40,937.20 C818.10,936.20 814.60,935.20 811.90,934.60 C813.60,942.60 804.10,949.20 792.30,949.20 C781.10,949.20 773.30,944.60 772.70,938.00 C766.10,940.10 760.10,944.60 756.10,951.20 Z M792.50,934.20 C784.90,934.20 779.10,936.50 779.10,939.60 C779.10,942.70 784.90,945.00 792.50,945.00 C800.10,945.00 805.90,942.70 805.90,939.60 C805.90,936.50 800.10,934.20 792.50,934.20 Z" fill="#111" stroke="none" stroke-width="0" fill-rule="evenodd"/>
<path d="M622.5,930.9L645.3,945.9L645.3,949.4L635.0,949.4L640.5,959.4L640.5,962.9L604.4,962.9L604.4,959.4L610.0,949.4L598.9,949.4L598.9,945.9Z" fill="#fff" stroke="#fff" stroke-width="3.2" fill-rule="evenodd"/>
<path d="M598.9,945.9L612.2,945.7L610.2,949.4L598.9,949.4Z" fill="#000" stroke="#000" stroke-width="0.4" fill-rule="evenodd"/>
<path d="M632.8,945.7L645.3,945.9L645.3,949.4L634.8,949.4Z" fill="#000" stroke="#000" stroke-width="0.4" fill-rule="evenodd"/>
<path d="M604.4,959.2L640.5,959.2L640.5,962.9L604.4,962.9Z" fill="#000" stroke="#000" stroke-width="0.4" fill-rule="evenodd"/>
<path d="M622.5,930.9L645.3,945.9L633.0,945.7L640.3,959.4L604.6,959.4L611.9,945.7L598.9,945.9Z" fill="#fca1fb" stroke="none" stroke-width="0" fill-rule="evenodd"/>
<path d="M622.5,930.9L645.3,945.9L633.0,945.7L640.3,959.4L604.6,959.4L611.9,945.7L598.9,945.9Z" fill="none" stroke="#000" stroke-width="0.8" fill-rule="evenodd"/>
</g>
<rect x="498.75" y="759.9" width="350.8" height="238.4" stroke="#3a3a3a" stroke-width="1.5"/>
<text x="777.8" y="994.4" font-family="Liberation Sans, sans-serif" font-size="11px" fill="#111" stroke="none">STO34AP012</text>
</svg>

<div class="abs" id="tab"><span>3</span></div>
<div class="abs" id="side">Bruk av komponentene</div>
<div class="abs" id="wm">carmanualsonline.info</div>
</body>
</html>
